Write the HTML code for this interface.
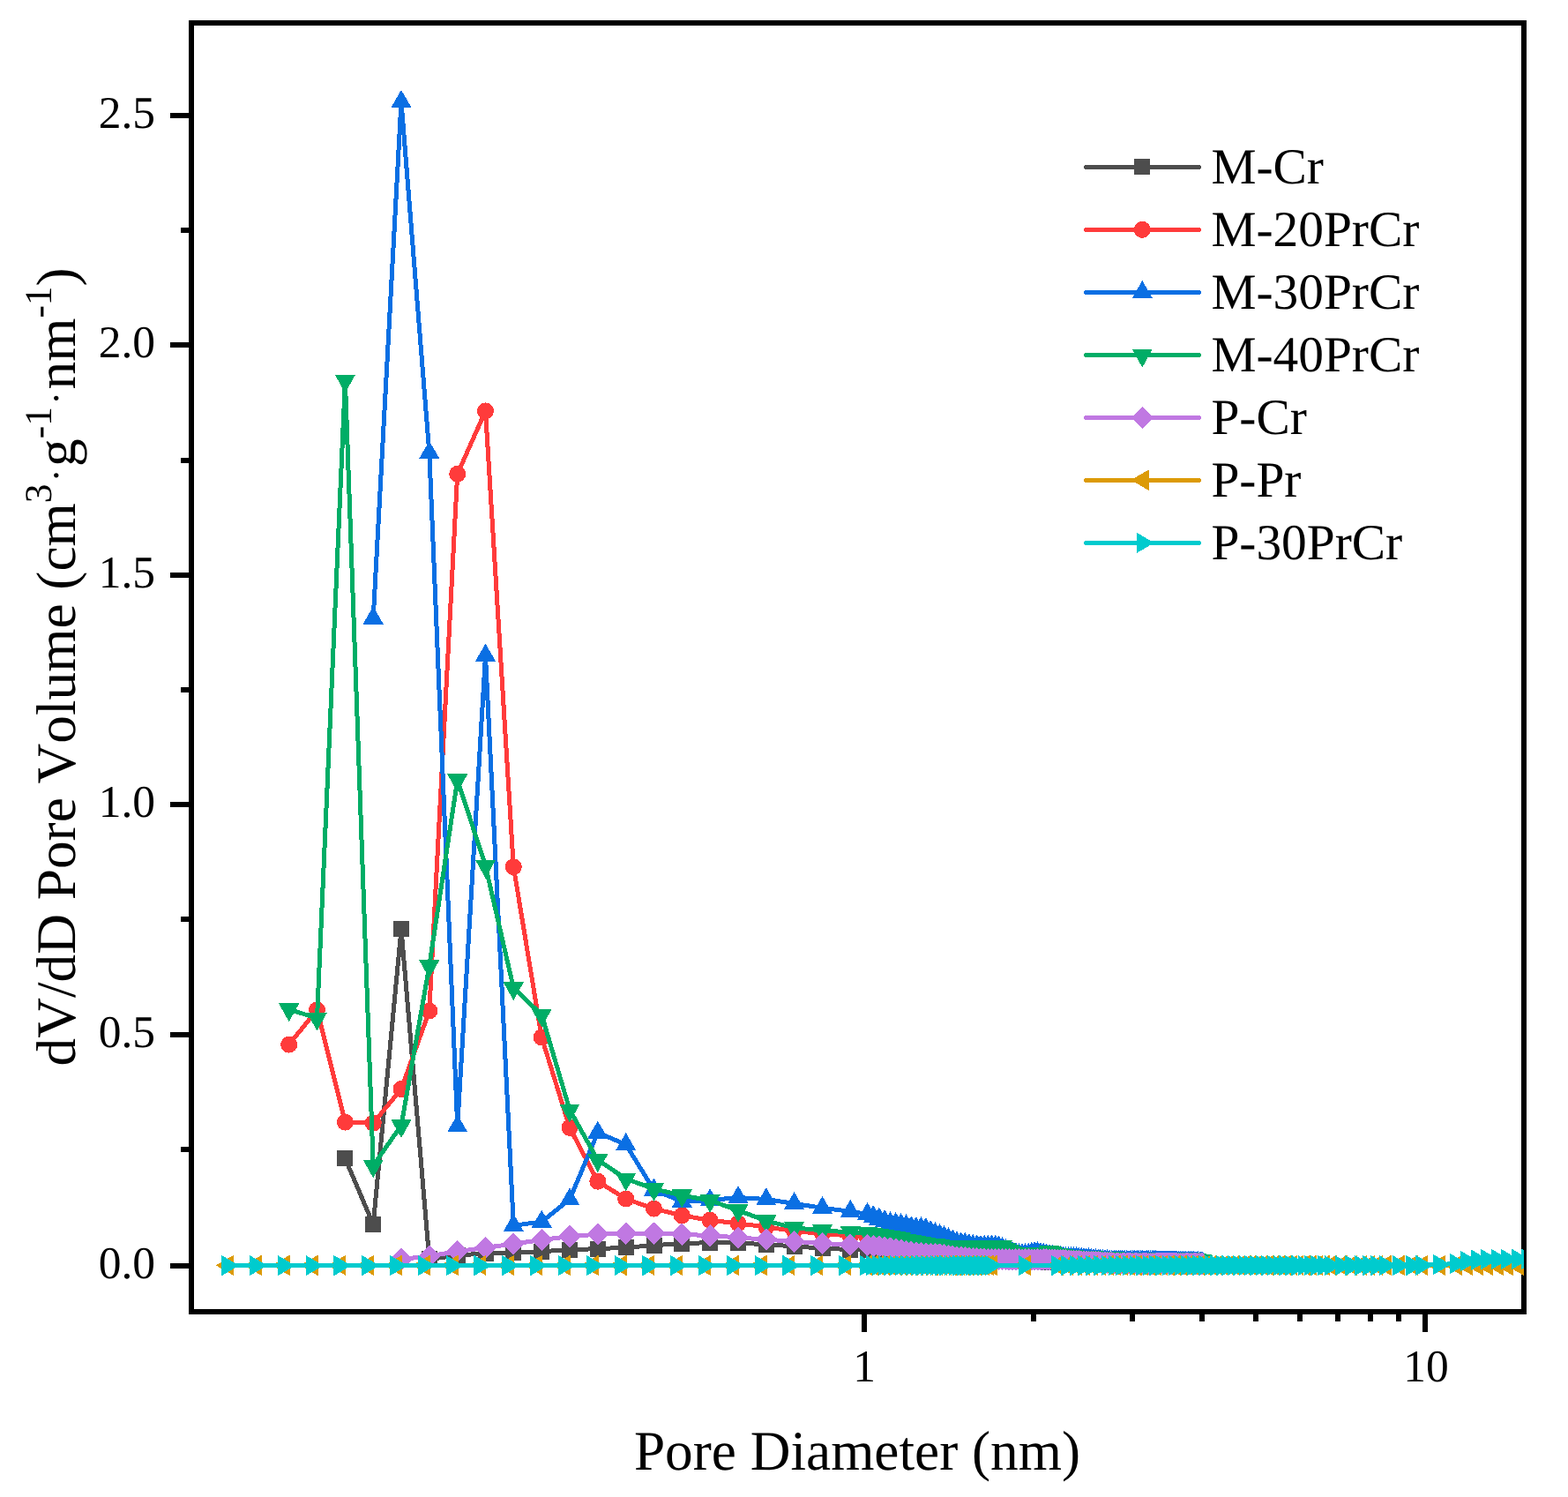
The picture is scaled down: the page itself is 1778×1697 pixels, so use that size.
<!DOCTYPE html>
<html lang="en"><head><meta charset="utf-8"><title>Pore size distribution</title>
<style>
html,body{margin:0;padding:0;background:#fff;}
body{width:1778px;height:1697px;overflow:hidden;}
svg{display:block;}
text{font-family:"Liberation Serif", serif;fill:#000;font-kerning:none;font-feature-settings:"kern" 0,"liga" 0;text-rendering:geometricPrecision;}
</style></head><body>
<svg width="1778" height="1697" viewBox="0 0 1778 1697">
<rect width="1778" height="1697" fill="#fff"/>
<g fill="#000" shape-rendering="crispEdges">
<path d="M214 23H1731V1490H214z M220 29V1484H1725V29z" fill-rule="evenodd"/>
<rect x="193" y="128" width="22" height="6"/>
<rect x="193" y="388" width="22" height="6"/>
<rect x="193" y="649" width="22" height="6"/>
<rect x="193" y="909" width="22" height="6"/>
<rect x="193" y="1170" width="22" height="6"/>
<rect x="193" y="1432" width="22" height="6"/>
<rect x="205" y="258" width="10" height="6"/>
<rect x="205" y="519" width="10" height="6"/>
<rect x="205" y="779" width="10" height="6"/>
<rect x="205" y="1039" width="10" height="6"/>
<rect x="205" y="1300" width="10" height="6"/>
<rect x="977" y="1489" width="6" height="21"/>
<rect x="1613" y="1489" width="6" height="21"/>
<rect x="1169" y="1489" width="6" height="9"/>
<rect x="1281" y="1489" width="6" height="9"/>
<rect x="1360" y="1489" width="6" height="9"/>
<rect x="1421" y="1489" width="6" height="9"/>
<rect x="1471" y="1489" width="6" height="9"/>
<rect x="1514" y="1489" width="6" height="9"/>
<rect x="1551" y="1489" width="6" height="9"/>
<rect x="1583" y="1489" width="6" height="9"/>
</g>
<g font-size="51.5" text-anchor="end">
<text x="176" y="145">2.5</text>
<text x="176" y="405">2.0</text>
<text x="176" y="666">1.5</text>
<text x="176" y="926">1.0</text>
<text x="176" y="1187">0.5</text>
<text x="176" y="1449">0.0</text>
</g>
<g font-size="51.5" text-anchor="middle">
<text x="980" y="1565.7">1</text>
<text x="1617" y="1565.7">10</text>
</g>
<text x="972" y="1666" font-size="63.3" text-anchor="middle">Pore Diameter (nm)</text>
<text transform="translate(84.8,755.9) rotate(-90)" font-size="63.3" text-anchor="middle">dV/dD Pore Volume (cm<tspan font-size="43.3" dy="-27">3</tspan><tspan font-size="46" dx="2.2" dy="21.4">·</tspan><tspan dy="5.6" dx="2.2">g</tspan><tspan font-size="43.3" dy="-27">-1</tspan><tspan font-size="46" dx="2.2" dy="21.4">·</tspan><tspan dy="5.6" dx="2.2">nm</tspan><tspan font-size="43.3" dy="-27">-1</tspan><tspan dy="27">)</tspan></text>
<defs><clipPath id="plot"><rect x="217" y="26" width="1511" height="1461"/></clipPath></defs>
<g clip-path="url(#plot)" shape-rendering="crispEdges">
<path d="M391.4 1313.3L423.2 1388.0L455.0 1053.3L486.8 1427.4L518.7 1423.2L550.5 1420.7L582.3 1420.0L614.2 1418.6L646.0 1416.8L677.8 1415.6L709.7 1414.3L741.5 1411.6L773.3 1409.8L805.1 1408.5L837.0 1409.0L868.8 1410.8L900.6 1412.8L932.5 1415.2L964.3 1416.5L983.5 1417.0L990.2 1417.0L996.8 1417.0L1003.2 1417.0L1009.5 1417.0L1015.6 1417.6L1021.6 1418.2L1027.5 1418.8L1033.3 1419.3L1038.9 1419.9L1044.4 1420.4L1049.8 1421.0L1055.2 1421.5L1060.4 1422.0L1065.5 1422.5L1070.5 1423.0L1075.4 1423.5L1080.3 1424.0L1085.0 1424.5L1089.7 1425.0L1094.3 1425.4L1098.9 1425.9L1103.3 1426.3L1107.7 1426.8L1112.0 1427.1L1116.3 1427.3L1120.4 1427.5L1124.6 1427.6L1128.6 1427.8L1132.6 1428.0L1136.6 1428.2L1140.5 1428.4L1144.3 1428.5L1148.1 1428.7L1151.8 1428.9L1155.5 1429.0L1159.1 1429.2L1162.7 1429.3L1166.3 1429.5L1169.8 1429.7L1173.2 1429.8L1176.6 1430.0L1180.0 1430.1L1183.3 1430.3L1186.6 1430.4L1189.8 1430.5L1193.1 1430.7L1196.2 1430.8L1199.4 1431.0L1202.5 1431.0L1205.5 1431.1L1208.6 1431.2L1211.6 1431.2L1214.5 1431.3L1217.5 1431.3L1220.4 1431.4L1223.3 1431.4L1226.1 1431.5L1228.9 1431.5L1231.7 1431.6L1234.5 1431.6L1237.2 1431.7L1239.9 1431.7L1242.6 1431.8L1245.3 1431.8L1247.9 1431.9L1250.5 1431.9L1253.1 1432.0L1255.6 1432.0L1258.2 1432.1L1260.7 1432.1L1263.2 1432.1L1265.6 1432.2L1268.1 1432.2L1270.5 1432.3L1272.9 1432.3L1275.3 1432.4L1277.7 1432.4L1280.0 1432.5L1282.3 1432.5L1284.6 1432.5L1286.9 1432.6L1289.2 1432.6L1291.4 1432.7L1293.6 1432.7L1295.8 1432.7L1298.0 1432.8L1300.2 1432.8L1302.4 1432.9L1304.5 1432.9L1306.6 1432.9L1308.7 1433.0L1310.8 1433.0L1312.9 1433.1L1315.0 1433.1L1317.0 1433.1L1319.1 1433.2L1321.1 1433.2L1323.1 1433.2L1325.1 1433.3L1327.0 1433.3L1329.0 1433.3L1330.9 1433.4L1332.9 1433.4L1334.8 1433.5L1336.7 1433.5L1338.6 1433.5L1340.5 1433.6L1342.3 1433.6L1344.2 1433.6L1346.0 1433.7L1347.8 1433.7L1349.7 1433.7L1351.5 1433.8L1353.3 1433.8L1355.0 1433.8L1356.8 1433.9L1358.6 1433.9L1360.3 1433.9L1362.1 1433.9L1363.8 1434.0" fill="none" stroke="#4d4d4d" stroke-width="5" stroke-linejoin="round" stroke-linecap="round"/>
<path d="M382.4 1304.3h18v18h-18zM414.2 1379.0h18v18h-18zM446.0 1044.3h18v18h-18zM477.8 1418.4h18v18h-18zM509.7 1414.2h18v18h-18zM541.5 1411.7h18v18h-18zM573.3 1411.0h18v18h-18zM605.2 1409.6h18v18h-18zM637.0 1407.8h18v18h-18zM668.8 1406.6h18v18h-18zM700.7 1405.3h18v18h-18zM732.5 1402.6h18v18h-18zM764.3 1400.8h18v18h-18zM796.1 1399.5h18v18h-18zM828.0 1400.0h18v18h-18zM859.8 1401.8h18v18h-18zM891.6 1403.8h18v18h-18zM923.5 1406.2h18v18h-18zM955.3 1407.5h18v18h-18zM974.5 1408.0h18v18h-18zM981.2 1408.0h18v18h-18zM987.8 1408.0h18v18h-18zM994.2 1408.0h18v18h-18zM1000.5 1408.0h18v18h-18zM1006.6 1408.6h18v18h-18zM1012.6 1409.2h18v18h-18zM1018.5 1409.8h18v18h-18zM1024.3 1410.3h18v18h-18zM1029.9 1410.9h18v18h-18zM1035.4 1411.4h18v18h-18zM1040.8 1412.0h18v18h-18zM1046.2 1412.5h18v18h-18zM1051.4 1413.0h18v18h-18zM1056.5 1413.5h18v18h-18zM1061.5 1414.0h18v18h-18zM1066.4 1414.5h18v18h-18zM1071.3 1415.0h18v18h-18zM1076.0 1415.5h18v18h-18zM1080.7 1416.0h18v18h-18zM1085.3 1416.4h18v18h-18zM1089.9 1416.9h18v18h-18zM1094.3 1417.3h18v18h-18zM1098.7 1417.8h18v18h-18zM1103.0 1418.1h18v18h-18zM1107.3 1418.3h18v18h-18zM1111.4 1418.5h18v18h-18zM1115.6 1418.6h18v18h-18zM1119.6 1418.8h18v18h-18zM1123.6 1419.0h18v18h-18zM1127.6 1419.2h18v18h-18zM1131.5 1419.4h18v18h-18zM1135.3 1419.5h18v18h-18zM1139.1 1419.7h18v18h-18zM1142.8 1419.9h18v18h-18zM1146.5 1420.0h18v18h-18zM1150.1 1420.2h18v18h-18zM1153.7 1420.3h18v18h-18zM1157.3 1420.5h18v18h-18zM1160.8 1420.7h18v18h-18zM1164.2 1420.8h18v18h-18zM1167.6 1421.0h18v18h-18zM1171.0 1421.1h18v18h-18zM1174.3 1421.3h18v18h-18zM1177.6 1421.4h18v18h-18zM1180.8 1421.5h18v18h-18zM1184.1 1421.7h18v18h-18zM1187.2 1421.8h18v18h-18zM1190.4 1422.0h18v18h-18zM1193.5 1422.0h18v18h-18zM1196.5 1422.1h18v18h-18zM1199.6 1422.2h18v18h-18zM1202.6 1422.2h18v18h-18zM1205.5 1422.3h18v18h-18zM1208.5 1422.3h18v18h-18zM1211.4 1422.4h18v18h-18zM1214.3 1422.4h18v18h-18zM1217.1 1422.5h18v18h-18zM1219.9 1422.5h18v18h-18zM1222.7 1422.6h18v18h-18zM1225.5 1422.6h18v18h-18zM1228.2 1422.7h18v18h-18zM1230.9 1422.7h18v18h-18zM1233.6 1422.8h18v18h-18zM1236.3 1422.8h18v18h-18zM1238.9 1422.9h18v18h-18zM1241.5 1422.9h18v18h-18zM1244.1 1423.0h18v18h-18zM1246.6 1423.0h18v18h-18zM1249.2 1423.1h18v18h-18zM1251.7 1423.1h18v18h-18zM1254.2 1423.1h18v18h-18zM1256.6 1423.2h18v18h-18zM1259.1 1423.2h18v18h-18zM1261.5 1423.3h18v18h-18zM1263.9 1423.3h18v18h-18zM1266.3 1423.4h18v18h-18zM1268.7 1423.4h18v18h-18zM1271.0 1423.5h18v18h-18zM1273.3 1423.5h18v18h-18zM1275.6 1423.5h18v18h-18zM1277.9 1423.6h18v18h-18zM1280.2 1423.6h18v18h-18zM1282.4 1423.7h18v18h-18zM1284.6 1423.7h18v18h-18zM1286.8 1423.7h18v18h-18zM1289.0 1423.8h18v18h-18zM1291.2 1423.8h18v18h-18zM1293.4 1423.9h18v18h-18zM1295.5 1423.9h18v18h-18zM1297.6 1423.9h18v18h-18zM1299.7 1424.0h18v18h-18zM1301.8 1424.0h18v18h-18zM1303.9 1424.1h18v18h-18zM1306.0 1424.1h18v18h-18zM1308.0 1424.1h18v18h-18zM1310.1 1424.2h18v18h-18zM1312.1 1424.2h18v18h-18zM1314.1 1424.2h18v18h-18zM1316.1 1424.3h18v18h-18zM1318.0 1424.3h18v18h-18zM1320.0 1424.3h18v18h-18zM1321.9 1424.4h18v18h-18zM1323.9 1424.4h18v18h-18zM1325.8 1424.5h18v18h-18zM1327.7 1424.5h18v18h-18zM1329.6 1424.5h18v18h-18zM1331.5 1424.6h18v18h-18zM1333.3 1424.6h18v18h-18zM1335.2 1424.6h18v18h-18zM1337.0 1424.7h18v18h-18zM1338.8 1424.7h18v18h-18zM1340.7 1424.7h18v18h-18zM1342.5 1424.8h18v18h-18zM1344.3 1424.8h18v18h-18zM1346.0 1424.8h18v18h-18zM1347.8 1424.9h18v18h-18zM1349.6 1424.9h18v18h-18zM1351.3 1424.9h18v18h-18zM1353.1 1424.9h18v18h-18zM1354.8 1425.0h18v18h-18z" fill="#4d4d4d"/>
<path d="M327.7 1184.1L359.5 1144.8L391.4 1272.1L423.2 1273.2L455.0 1234.5L486.8 1146.0L518.7 537.3L550.5 465.9L582.3 982.6L614.2 1175.9L646.0 1278.4L677.8 1339.2L709.7 1359.0L741.5 1370.2L773.3 1377.9L805.1 1383.3L837.0 1386.8L868.8 1391.0L900.6 1395.5L932.5 1398.5L964.3 1401.0L983.5 1403.0L990.2 1403.8L996.8 1404.6L1003.2 1405.4L1009.5 1406.2L1015.6 1407.0L1021.6 1407.7L1027.5 1408.6L1033.3 1409.5L1038.9 1410.5L1044.4 1411.4L1049.8 1412.3L1055.2 1413.2L1060.4 1414.0L1065.5 1414.7L1070.5 1415.3L1075.4 1415.9L1080.3 1416.4L1085.0 1417.0L1089.7 1417.6L1094.3 1418.1L1098.9 1418.7L1103.3 1419.2L1107.7 1419.7L1112.0 1420.1L1116.3 1420.4L1120.4 1420.7L1124.6 1421.0L1128.6 1421.2L1132.6 1421.5L1136.6 1421.8L1140.5 1422.0L1144.3 1422.3L1148.1 1422.5L1151.8 1422.8L1155.5 1423.0L1159.1 1423.3L1162.7 1423.5L1166.3 1423.8L1169.8 1424.0L1173.2 1424.2L1176.6 1424.4L1180.0 1424.7L1183.3 1424.9L1186.6 1425.1L1189.8 1425.3L1193.1 1425.5L1196.2 1425.7L1199.4 1426.0L1202.5 1426.1L1205.5 1426.2L1208.6 1426.4L1211.6 1426.5L1214.5 1426.6L1217.5 1426.7L1220.4 1426.9L1223.3 1427.0L1226.1 1427.1L1228.9 1427.2L1231.7 1427.3L1234.5 1427.5L1237.2 1427.6L1239.9 1427.7L1242.6 1427.8L1245.3 1427.9L1247.9 1428.0L1250.5 1428.1L1253.1 1428.3L1255.6 1428.4L1258.2 1428.5L1260.7 1428.6L1263.2 1428.7L1265.6 1428.8L1268.1 1428.9L1270.5 1429.0L1272.9 1429.1L1275.3 1429.2L1277.7 1429.3L1280.0 1429.4L1282.3 1429.5L1284.6 1429.6L1286.9 1429.7L1289.2 1429.8L1291.4 1429.9L1293.6 1430.0L1295.8 1430.1L1298.0 1430.2L1300.2 1430.3L1302.4 1430.3L1304.5 1430.4L1306.6 1430.5L1308.7 1430.6L1310.8 1430.7L1312.9 1430.8L1315.0 1430.9L1317.0 1431.0L1319.1 1431.1L1321.1 1431.1L1323.1 1431.2L1325.1 1431.3L1327.0 1431.4L1329.0 1431.5L1330.9 1431.6L1332.9 1431.6L1334.8 1431.7L1336.7 1431.8L1338.6 1431.9L1340.5 1432.0L1342.3 1432.0L1344.2 1432.1L1346.0 1432.2L1347.8 1432.3L1349.7 1432.3L1351.5 1432.4L1353.3 1432.5L1355.0 1432.6L1356.8 1432.7L1358.6 1432.7L1360.3 1432.8L1362.1 1432.9L1363.8 1432.9" fill="none" stroke="#ff3b3b" stroke-width="5" stroke-linejoin="round" stroke-linecap="round"/>
<path d="M318.2 1184.1a9.5 9.5 0 1 0 19.0 0a9.5 9.5 0 1 0 -19.0 0zM350.0 1144.8a9.5 9.5 0 1 0 19.0 0a9.5 9.5 0 1 0 -19.0 0zM381.9 1272.1a9.5 9.5 0 1 0 19.0 0a9.5 9.5 0 1 0 -19.0 0zM413.7 1273.2a9.5 9.5 0 1 0 19.0 0a9.5 9.5 0 1 0 -19.0 0zM445.5 1234.5a9.5 9.5 0 1 0 19.0 0a9.5 9.5 0 1 0 -19.0 0zM477.3 1146.0a9.5 9.5 0 1 0 19.0 0a9.5 9.5 0 1 0 -19.0 0zM509.2 537.3a9.5 9.5 0 1 0 19.0 0a9.5 9.5 0 1 0 -19.0 0zM541.0 465.9a9.5 9.5 0 1 0 19.0 0a9.5 9.5 0 1 0 -19.0 0zM572.8 982.6a9.5 9.5 0 1 0 19.0 0a9.5 9.5 0 1 0 -19.0 0zM604.7 1175.9a9.5 9.5 0 1 0 19.0 0a9.5 9.5 0 1 0 -19.0 0zM636.5 1278.4a9.5 9.5 0 1 0 19.0 0a9.5 9.5 0 1 0 -19.0 0zM668.3 1339.2a9.5 9.5 0 1 0 19.0 0a9.5 9.5 0 1 0 -19.0 0zM700.2 1359.0a9.5 9.5 0 1 0 19.0 0a9.5 9.5 0 1 0 -19.0 0zM732.0 1370.2a9.5 9.5 0 1 0 19.0 0a9.5 9.5 0 1 0 -19.0 0zM763.8 1377.9a9.5 9.5 0 1 0 19.0 0a9.5 9.5 0 1 0 -19.0 0zM795.6 1383.3a9.5 9.5 0 1 0 19.0 0a9.5 9.5 0 1 0 -19.0 0zM827.5 1386.8a9.5 9.5 0 1 0 19.0 0a9.5 9.5 0 1 0 -19.0 0zM859.3 1391.0a9.5 9.5 0 1 0 19.0 0a9.5 9.5 0 1 0 -19.0 0zM891.1 1395.5a9.5 9.5 0 1 0 19.0 0a9.5 9.5 0 1 0 -19.0 0zM923.0 1398.5a9.5 9.5 0 1 0 19.0 0a9.5 9.5 0 1 0 -19.0 0zM954.8 1401.0a9.5 9.5 0 1 0 19.0 0a9.5 9.5 0 1 0 -19.0 0zM974.0 1403.0a9.5 9.5 0 1 0 19.0 0a9.5 9.5 0 1 0 -19.0 0zM980.7 1403.8a9.5 9.5 0 1 0 19.0 0a9.5 9.5 0 1 0 -19.0 0zM987.3 1404.6a9.5 9.5 0 1 0 19.0 0a9.5 9.5 0 1 0 -19.0 0zM993.7 1405.4a9.5 9.5 0 1 0 19.0 0a9.5 9.5 0 1 0 -19.0 0zM1000.0 1406.2a9.5 9.5 0 1 0 19.0 0a9.5 9.5 0 1 0 -19.0 0zM1006.1 1407.0a9.5 9.5 0 1 0 19.0 0a9.5 9.5 0 1 0 -19.0 0zM1012.1 1407.7a9.5 9.5 0 1 0 19.0 0a9.5 9.5 0 1 0 -19.0 0zM1018.0 1408.6a9.5 9.5 0 1 0 19.0 0a9.5 9.5 0 1 0 -19.0 0zM1023.8 1409.5a9.5 9.5 0 1 0 19.0 0a9.5 9.5 0 1 0 -19.0 0zM1029.4 1410.5a9.5 9.5 0 1 0 19.0 0a9.5 9.5 0 1 0 -19.0 0zM1034.9 1411.4a9.5 9.5 0 1 0 19.0 0a9.5 9.5 0 1 0 -19.0 0zM1040.3 1412.3a9.5 9.5 0 1 0 19.0 0a9.5 9.5 0 1 0 -19.0 0zM1045.7 1413.2a9.5 9.5 0 1 0 19.0 0a9.5 9.5 0 1 0 -19.0 0zM1050.9 1414.0a9.5 9.5 0 1 0 19.0 0a9.5 9.5 0 1 0 -19.0 0zM1056.0 1414.7a9.5 9.5 0 1 0 19.0 0a9.5 9.5 0 1 0 -19.0 0zM1061.0 1415.3a9.5 9.5 0 1 0 19.0 0a9.5 9.5 0 1 0 -19.0 0zM1065.9 1415.9a9.5 9.5 0 1 0 19.0 0a9.5 9.5 0 1 0 -19.0 0zM1070.8 1416.4a9.5 9.5 0 1 0 19.0 0a9.5 9.5 0 1 0 -19.0 0zM1075.5 1417.0a9.5 9.5 0 1 0 19.0 0a9.5 9.5 0 1 0 -19.0 0zM1080.2 1417.6a9.5 9.5 0 1 0 19.0 0a9.5 9.5 0 1 0 -19.0 0zM1084.8 1418.1a9.5 9.5 0 1 0 19.0 0a9.5 9.5 0 1 0 -19.0 0zM1089.4 1418.7a9.5 9.5 0 1 0 19.0 0a9.5 9.5 0 1 0 -19.0 0zM1093.8 1419.2a9.5 9.5 0 1 0 19.0 0a9.5 9.5 0 1 0 -19.0 0zM1098.2 1419.7a9.5 9.5 0 1 0 19.0 0a9.5 9.5 0 1 0 -19.0 0zM1102.5 1420.1a9.5 9.5 0 1 0 19.0 0a9.5 9.5 0 1 0 -19.0 0zM1106.8 1420.4a9.5 9.5 0 1 0 19.0 0a9.5 9.5 0 1 0 -19.0 0zM1110.9 1420.7a9.5 9.5 0 1 0 19.0 0a9.5 9.5 0 1 0 -19.0 0zM1115.1 1421.0a9.5 9.5 0 1 0 19.0 0a9.5 9.5 0 1 0 -19.0 0zM1119.1 1421.2a9.5 9.5 0 1 0 19.0 0a9.5 9.5 0 1 0 -19.0 0zM1123.1 1421.5a9.5 9.5 0 1 0 19.0 0a9.5 9.5 0 1 0 -19.0 0zM1127.1 1421.8a9.5 9.5 0 1 0 19.0 0a9.5 9.5 0 1 0 -19.0 0zM1131.0 1422.0a9.5 9.5 0 1 0 19.0 0a9.5 9.5 0 1 0 -19.0 0zM1134.8 1422.3a9.5 9.5 0 1 0 19.0 0a9.5 9.5 0 1 0 -19.0 0zM1138.6 1422.5a9.5 9.5 0 1 0 19.0 0a9.5 9.5 0 1 0 -19.0 0zM1142.3 1422.8a9.5 9.5 0 1 0 19.0 0a9.5 9.5 0 1 0 -19.0 0zM1146.0 1423.0a9.5 9.5 0 1 0 19.0 0a9.5 9.5 0 1 0 -19.0 0zM1149.6 1423.3a9.5 9.5 0 1 0 19.0 0a9.5 9.5 0 1 0 -19.0 0zM1153.2 1423.5a9.5 9.5 0 1 0 19.0 0a9.5 9.5 0 1 0 -19.0 0zM1156.8 1423.8a9.5 9.5 0 1 0 19.0 0a9.5 9.5 0 1 0 -19.0 0zM1160.3 1424.0a9.5 9.5 0 1 0 19.0 0a9.5 9.5 0 1 0 -19.0 0zM1163.7 1424.2a9.5 9.5 0 1 0 19.0 0a9.5 9.5 0 1 0 -19.0 0zM1167.1 1424.4a9.5 9.5 0 1 0 19.0 0a9.5 9.5 0 1 0 -19.0 0zM1170.5 1424.7a9.5 9.5 0 1 0 19.0 0a9.5 9.5 0 1 0 -19.0 0zM1173.8 1424.9a9.5 9.5 0 1 0 19.0 0a9.5 9.5 0 1 0 -19.0 0zM1177.1 1425.1a9.5 9.5 0 1 0 19.0 0a9.5 9.5 0 1 0 -19.0 0zM1180.3 1425.3a9.5 9.5 0 1 0 19.0 0a9.5 9.5 0 1 0 -19.0 0zM1183.6 1425.5a9.5 9.5 0 1 0 19.0 0a9.5 9.5 0 1 0 -19.0 0zM1186.7 1425.7a9.5 9.5 0 1 0 19.0 0a9.5 9.5 0 1 0 -19.0 0zM1189.9 1426.0a9.5 9.5 0 1 0 19.0 0a9.5 9.5 0 1 0 -19.0 0zM1193.0 1426.1a9.5 9.5 0 1 0 19.0 0a9.5 9.5 0 1 0 -19.0 0zM1196.0 1426.2a9.5 9.5 0 1 0 19.0 0a9.5 9.5 0 1 0 -19.0 0zM1199.1 1426.4a9.5 9.5 0 1 0 19.0 0a9.5 9.5 0 1 0 -19.0 0zM1202.1 1426.5a9.5 9.5 0 1 0 19.0 0a9.5 9.5 0 1 0 -19.0 0zM1205.0 1426.6a9.5 9.5 0 1 0 19.0 0a9.5 9.5 0 1 0 -19.0 0zM1208.0 1426.7a9.5 9.5 0 1 0 19.0 0a9.5 9.5 0 1 0 -19.0 0zM1210.9 1426.9a9.5 9.5 0 1 0 19.0 0a9.5 9.5 0 1 0 -19.0 0zM1213.8 1427.0a9.5 9.5 0 1 0 19.0 0a9.5 9.5 0 1 0 -19.0 0zM1216.6 1427.1a9.5 9.5 0 1 0 19.0 0a9.5 9.5 0 1 0 -19.0 0zM1219.4 1427.2a9.5 9.5 0 1 0 19.0 0a9.5 9.5 0 1 0 -19.0 0zM1222.2 1427.3a9.5 9.5 0 1 0 19.0 0a9.5 9.5 0 1 0 -19.0 0zM1225.0 1427.5a9.5 9.5 0 1 0 19.0 0a9.5 9.5 0 1 0 -19.0 0zM1227.7 1427.6a9.5 9.5 0 1 0 19.0 0a9.5 9.5 0 1 0 -19.0 0zM1230.4 1427.7a9.5 9.5 0 1 0 19.0 0a9.5 9.5 0 1 0 -19.0 0zM1233.1 1427.8a9.5 9.5 0 1 0 19.0 0a9.5 9.5 0 1 0 -19.0 0zM1235.8 1427.9a9.5 9.5 0 1 0 19.0 0a9.5 9.5 0 1 0 -19.0 0zM1238.4 1428.0a9.5 9.5 0 1 0 19.0 0a9.5 9.5 0 1 0 -19.0 0zM1241.0 1428.1a9.5 9.5 0 1 0 19.0 0a9.5 9.5 0 1 0 -19.0 0zM1243.6 1428.3a9.5 9.5 0 1 0 19.0 0a9.5 9.5 0 1 0 -19.0 0zM1246.1 1428.4a9.5 9.5 0 1 0 19.0 0a9.5 9.5 0 1 0 -19.0 0zM1248.7 1428.5a9.5 9.5 0 1 0 19.0 0a9.5 9.5 0 1 0 -19.0 0zM1251.2 1428.6a9.5 9.5 0 1 0 19.0 0a9.5 9.5 0 1 0 -19.0 0zM1253.7 1428.7a9.5 9.5 0 1 0 19.0 0a9.5 9.5 0 1 0 -19.0 0zM1256.1 1428.8a9.5 9.5 0 1 0 19.0 0a9.5 9.5 0 1 0 -19.0 0zM1258.6 1428.9a9.5 9.5 0 1 0 19.0 0a9.5 9.5 0 1 0 -19.0 0zM1261.0 1429.0a9.5 9.5 0 1 0 19.0 0a9.5 9.5 0 1 0 -19.0 0zM1263.4 1429.1a9.5 9.5 0 1 0 19.0 0a9.5 9.5 0 1 0 -19.0 0zM1265.8 1429.2a9.5 9.5 0 1 0 19.0 0a9.5 9.5 0 1 0 -19.0 0zM1268.2 1429.3a9.5 9.5 0 1 0 19.0 0a9.5 9.5 0 1 0 -19.0 0zM1270.5 1429.4a9.5 9.5 0 1 0 19.0 0a9.5 9.5 0 1 0 -19.0 0zM1272.8 1429.5a9.5 9.5 0 1 0 19.0 0a9.5 9.5 0 1 0 -19.0 0zM1275.1 1429.6a9.5 9.5 0 1 0 19.0 0a9.5 9.5 0 1 0 -19.0 0zM1277.4 1429.7a9.5 9.5 0 1 0 19.0 0a9.5 9.5 0 1 0 -19.0 0zM1279.7 1429.8a9.5 9.5 0 1 0 19.0 0a9.5 9.5 0 1 0 -19.0 0zM1281.9 1429.9a9.5 9.5 0 1 0 19.0 0a9.5 9.5 0 1 0 -19.0 0zM1284.1 1430.0a9.5 9.5 0 1 0 19.0 0a9.5 9.5 0 1 0 -19.0 0zM1286.3 1430.1a9.5 9.5 0 1 0 19.0 0a9.5 9.5 0 1 0 -19.0 0zM1288.5 1430.2a9.5 9.5 0 1 0 19.0 0a9.5 9.5 0 1 0 -19.0 0zM1290.7 1430.3a9.5 9.5 0 1 0 19.0 0a9.5 9.5 0 1 0 -19.0 0zM1292.9 1430.3a9.5 9.5 0 1 0 19.0 0a9.5 9.5 0 1 0 -19.0 0zM1295.0 1430.4a9.5 9.5 0 1 0 19.0 0a9.5 9.5 0 1 0 -19.0 0zM1297.1 1430.5a9.5 9.5 0 1 0 19.0 0a9.5 9.5 0 1 0 -19.0 0zM1299.2 1430.6a9.5 9.5 0 1 0 19.0 0a9.5 9.5 0 1 0 -19.0 0zM1301.3 1430.7a9.5 9.5 0 1 0 19.0 0a9.5 9.5 0 1 0 -19.0 0zM1303.4 1430.8a9.5 9.5 0 1 0 19.0 0a9.5 9.5 0 1 0 -19.0 0zM1305.5 1430.9a9.5 9.5 0 1 0 19.0 0a9.5 9.5 0 1 0 -19.0 0zM1307.5 1431.0a9.5 9.5 0 1 0 19.0 0a9.5 9.5 0 1 0 -19.0 0zM1309.6 1431.1a9.5 9.5 0 1 0 19.0 0a9.5 9.5 0 1 0 -19.0 0zM1311.6 1431.1a9.5 9.5 0 1 0 19.0 0a9.5 9.5 0 1 0 -19.0 0zM1313.6 1431.2a9.5 9.5 0 1 0 19.0 0a9.5 9.5 0 1 0 -19.0 0zM1315.6 1431.3a9.5 9.5 0 1 0 19.0 0a9.5 9.5 0 1 0 -19.0 0zM1317.5 1431.4a9.5 9.5 0 1 0 19.0 0a9.5 9.5 0 1 0 -19.0 0zM1319.5 1431.5a9.5 9.5 0 1 0 19.0 0a9.5 9.5 0 1 0 -19.0 0zM1321.4 1431.6a9.5 9.5 0 1 0 19.0 0a9.5 9.5 0 1 0 -19.0 0zM1323.4 1431.6a9.5 9.5 0 1 0 19.0 0a9.5 9.5 0 1 0 -19.0 0zM1325.3 1431.7a9.5 9.5 0 1 0 19.0 0a9.5 9.5 0 1 0 -19.0 0zM1327.2 1431.8a9.5 9.5 0 1 0 19.0 0a9.5 9.5 0 1 0 -19.0 0zM1329.1 1431.9a9.5 9.5 0 1 0 19.0 0a9.5 9.5 0 1 0 -19.0 0zM1331.0 1432.0a9.5 9.5 0 1 0 19.0 0a9.5 9.5 0 1 0 -19.0 0zM1332.8 1432.0a9.5 9.5 0 1 0 19.0 0a9.5 9.5 0 1 0 -19.0 0zM1334.7 1432.1a9.5 9.5 0 1 0 19.0 0a9.5 9.5 0 1 0 -19.0 0zM1336.5 1432.2a9.5 9.5 0 1 0 19.0 0a9.5 9.5 0 1 0 -19.0 0zM1338.3 1432.3a9.5 9.5 0 1 0 19.0 0a9.5 9.5 0 1 0 -19.0 0zM1340.2 1432.3a9.5 9.5 0 1 0 19.0 0a9.5 9.5 0 1 0 -19.0 0zM1342.0 1432.4a9.5 9.5 0 1 0 19.0 0a9.5 9.5 0 1 0 -19.0 0zM1343.8 1432.5a9.5 9.5 0 1 0 19.0 0a9.5 9.5 0 1 0 -19.0 0zM1345.5 1432.6a9.5 9.5 0 1 0 19.0 0a9.5 9.5 0 1 0 -19.0 0zM1347.3 1432.7a9.5 9.5 0 1 0 19.0 0a9.5 9.5 0 1 0 -19.0 0zM1349.1 1432.7a9.5 9.5 0 1 0 19.0 0a9.5 9.5 0 1 0 -19.0 0zM1350.8 1432.8a9.5 9.5 0 1 0 19.0 0a9.5 9.5 0 1 0 -19.0 0zM1352.6 1432.9a9.5 9.5 0 1 0 19.0 0a9.5 9.5 0 1 0 -19.0 0zM1354.3 1432.9a9.5 9.5 0 1 0 19.0 0a9.5 9.5 0 1 0 -19.0 0z" fill="#ff3b3b"/>
<path d="M423.2 700.8L455.0 115.3L486.8 513.2L518.7 1276.7L550.5 743.0L582.3 1389.3L614.2 1385.0L646.0 1359.7L677.8 1284.0L709.7 1297.4L741.5 1349.0L773.3 1362.0L805.1 1360.6L837.0 1357.5L868.8 1359.5L900.6 1364.4L932.5 1369.3L964.3 1373.3L983.5 1376.3L990.2 1379.4L996.8 1381.9L1003.2 1384.5L1009.5 1386.6L1015.6 1387.5L1021.6 1388.4L1027.5 1389.6L1033.3 1391.6L1038.9 1392.5L1044.4 1392.5L1049.8 1393.4L1055.2 1396.5L1060.4 1398.4L1065.5 1400.4L1070.5 1402.3L1075.4 1404.7L1080.3 1406.6L1085.0 1408.7L1089.7 1409.6L1094.3 1410.5L1098.9 1411.3L1103.3 1412.3L1107.7 1412.7L1112.0 1413.2L1116.3 1413.5L1120.4 1413.2L1124.6 1412.8L1128.6 1413.1L1132.6 1413.9L1136.6 1415.5L1140.5 1417.2L1144.3 1418.9L1148.1 1420.5L1151.8 1421.6L1155.5 1422.5L1159.1 1422.5L1162.7 1422.5L1166.3 1422.0L1169.8 1421.2L1173.2 1420.4L1176.6 1420.4L1180.0 1421.4L1183.3 1422.2L1186.6 1422.8L1189.8 1423.4L1193.1 1423.9L1196.2 1424.4L1199.4 1424.9L1202.5 1425.4L1205.5 1425.9L1208.6 1426.4L1211.6 1426.5L1214.5 1426.5L1217.5 1426.5L1220.4 1426.7L1223.3 1426.9L1226.1 1427.1L1228.9 1427.4L1231.7 1427.6L1234.5 1427.8L1237.2 1428.0L1239.9 1428.3L1242.6 1428.6L1245.3 1428.8L1247.9 1429.1L1250.5 1429.4L1253.1 1429.6L1255.6 1429.7L1258.2 1429.8L1260.7 1429.9L1263.2 1429.9L1265.6 1430.0L1268.1 1430.1L1270.5 1430.1L1272.9 1430.1L1275.3 1430.1L1277.7 1430.1L1280.0 1430.1L1282.3 1430.1L1284.6 1430.2L1286.9 1430.2L1289.2 1430.2L1291.4 1430.2L1293.6 1430.2L1295.8 1430.2L1298.0 1430.2L1300.2 1430.2L1302.4 1430.2L1304.5 1430.2L1306.6 1430.2L1308.7 1430.3L1310.8 1430.3L1312.9 1430.3L1315.0 1430.3L1317.0 1430.3L1319.1 1430.3L1321.1 1430.3L1323.1 1430.4L1325.1 1430.5L1327.0 1430.5L1329.0 1430.6L1330.9 1430.6L1332.9 1430.7L1334.8 1430.8L1336.7 1430.8L1338.6 1430.9L1340.5 1430.9L1342.3 1431.0L1344.2 1431.1L1346.0 1431.1L1347.8 1431.2L1349.7 1431.2L1351.5 1431.3L1353.3 1431.3L1355.0 1431.4L1356.8 1431.4L1358.6 1431.5L1360.3 1431.6L1362.1 1431.6L1363.8 1431.7" fill="none" stroke="#0a6fe3" stroke-width="5" stroke-linejoin="round" stroke-linecap="round"/>
<path d="M423.2 687.4L434.8 707.5L411.6 707.5zM455.0 101.9L466.6 122.0L443.4 122.0zM486.8 499.8L498.4 519.9L475.2 519.9zM518.7 1263.3L530.3 1283.4L507.1 1283.4zM550.5 729.6L562.1 749.7L538.9 749.7zM582.3 1375.9L593.9 1396.0L570.7 1396.0zM614.2 1371.6L625.8 1391.7L602.6 1391.7zM646.0 1346.3L657.6 1366.4L634.4 1366.4zM677.8 1270.6L689.4 1290.7L666.2 1290.7zM709.7 1284.0L721.3 1304.1L698.1 1304.1zM741.5 1335.6L753.1 1355.7L729.9 1355.7zM773.3 1348.6L784.9 1368.7L761.7 1368.7zM805.1 1347.2L816.8 1367.3L793.5 1367.3zM837.0 1344.1L848.6 1364.2L825.4 1364.2zM868.8 1346.1L880.4 1366.2L857.2 1366.2zM900.6 1351.0L912.2 1371.1L889.0 1371.1zM932.5 1355.9L944.1 1376.0L920.9 1376.0zM964.3 1359.9L975.9 1380.0L952.7 1380.0zM983.5 1362.9L995.1 1383.0L971.9 1383.0zM990.2 1366.0L1001.8 1386.1L978.6 1386.1zM996.8 1368.5L1008.4 1388.6L985.2 1388.6zM1003.2 1371.1L1014.8 1391.2L991.6 1391.2zM1009.5 1373.2L1021.1 1393.3L997.9 1393.3zM1015.6 1374.1L1027.2 1394.2L1004.0 1394.2zM1021.6 1375.0L1033.2 1395.1L1010.0 1395.1zM1027.5 1376.2L1039.1 1396.3L1015.9 1396.3zM1033.3 1378.2L1044.9 1398.3L1021.7 1398.3zM1038.9 1379.1L1050.5 1399.2L1027.3 1399.2zM1044.4 1379.1L1056.0 1399.2L1032.8 1399.2zM1049.8 1380.0L1061.4 1400.1L1038.2 1400.1zM1055.2 1383.1L1066.8 1403.2L1043.6 1403.2zM1060.4 1385.0L1072.0 1405.1L1048.8 1405.1zM1065.5 1387.0L1077.1 1407.1L1053.9 1407.1zM1070.5 1388.9L1082.1 1409.0L1058.9 1409.0zM1075.4 1391.3L1087.0 1411.4L1063.8 1411.4zM1080.3 1393.2L1091.9 1413.3L1068.7 1413.3zM1085.0 1395.3L1096.6 1415.4L1073.4 1415.4zM1089.7 1396.2L1101.3 1416.3L1078.1 1416.3zM1094.3 1397.1L1105.9 1417.2L1082.7 1417.2zM1098.9 1397.9L1110.5 1418.0L1087.3 1418.0zM1103.3 1398.9L1114.9 1419.0L1091.7 1419.0zM1107.7 1399.3L1119.3 1419.4L1096.1 1419.4zM1112.0 1399.8L1123.6 1419.9L1100.4 1419.9zM1116.3 1400.1L1127.9 1420.2L1104.7 1420.2zM1120.4 1399.8L1132.0 1419.9L1108.8 1419.9zM1124.6 1399.4L1136.2 1419.5L1113.0 1419.5zM1128.6 1399.7L1140.2 1419.8L1117.0 1419.8zM1132.6 1400.5L1144.2 1420.6L1121.0 1420.6zM1136.6 1402.1L1148.2 1422.2L1125.0 1422.2zM1140.5 1403.8L1152.1 1423.9L1128.9 1423.9zM1144.3 1405.5L1155.9 1425.6L1132.7 1425.6zM1148.1 1407.1L1159.7 1427.2L1136.5 1427.2zM1151.8 1408.2L1163.4 1428.3L1140.2 1428.3zM1155.5 1409.1L1167.1 1429.2L1143.9 1429.2zM1159.1 1409.1L1170.7 1429.2L1147.5 1429.2zM1162.7 1409.1L1174.3 1429.2L1151.1 1429.2zM1166.3 1408.6L1177.9 1428.7L1154.7 1428.7zM1169.8 1407.8L1181.4 1427.9L1158.2 1427.9zM1173.2 1407.0L1184.8 1427.1L1161.6 1427.1zM1176.6 1407.0L1188.2 1427.1L1165.0 1427.1zM1180.0 1408.0L1191.6 1428.1L1168.4 1428.1zM1183.3 1408.8L1194.9 1428.9L1171.7 1428.9zM1186.6 1409.4L1198.2 1429.5L1175.0 1429.5zM1189.8 1410.0L1201.4 1430.1L1178.2 1430.1zM1193.1 1410.5L1204.7 1430.6L1181.5 1430.6zM1196.2 1411.0L1207.8 1431.1L1184.6 1431.1zM1199.4 1411.5L1211.0 1431.6L1187.8 1431.6zM1202.5 1412.0L1214.1 1432.1L1190.9 1432.1zM1205.5 1412.5L1217.1 1432.6L1193.9 1432.6zM1208.6 1413.0L1220.2 1433.1L1197.0 1433.1zM1211.6 1413.1L1223.2 1433.2L1200.0 1433.2zM1214.5 1413.1L1226.1 1433.2L1202.9 1433.2zM1217.5 1413.1L1229.1 1433.2L1205.9 1433.2zM1220.4 1413.3L1232.0 1433.4L1208.8 1433.4zM1223.3 1413.5L1234.9 1433.6L1211.7 1433.6zM1226.1 1413.7L1237.7 1433.8L1214.5 1433.8zM1228.9 1414.0L1240.5 1434.1L1217.3 1434.1zM1231.7 1414.2L1243.3 1434.3L1220.1 1434.3zM1234.5 1414.4L1246.1 1434.5L1222.9 1434.5zM1237.2 1414.6L1248.8 1434.7L1225.6 1434.7zM1239.9 1414.9L1251.5 1435.0L1228.3 1435.0zM1242.6 1415.2L1254.2 1435.3L1231.0 1435.3zM1245.3 1415.4L1256.9 1435.5L1233.7 1435.5zM1247.9 1415.7L1259.5 1435.8L1236.3 1435.8zM1250.5 1416.0L1262.1 1436.1L1238.9 1436.1zM1253.1 1416.2L1264.7 1436.3L1241.5 1436.3zM1255.6 1416.3L1267.2 1436.4L1244.0 1436.4zM1258.2 1416.4L1269.8 1436.5L1246.6 1436.5zM1260.7 1416.5L1272.3 1436.6L1249.1 1436.6zM1263.2 1416.5L1274.8 1436.6L1251.6 1436.6zM1265.6 1416.6L1277.2 1436.7L1254.0 1436.7zM1268.1 1416.7L1279.7 1436.8L1256.5 1436.8zM1270.5 1416.7L1282.1 1436.8L1258.9 1436.8zM1272.9 1416.7L1284.5 1436.8L1261.3 1436.8zM1275.3 1416.7L1286.9 1436.8L1263.7 1436.8zM1277.7 1416.7L1289.3 1436.8L1266.1 1436.8zM1280.0 1416.7L1291.6 1436.8L1268.4 1436.8zM1282.3 1416.7L1293.9 1436.8L1270.7 1436.8zM1284.6 1416.8L1296.2 1436.9L1273.0 1436.9zM1286.9 1416.8L1298.5 1436.9L1275.3 1436.9zM1289.2 1416.8L1300.8 1436.9L1277.6 1436.9zM1291.4 1416.8L1303.0 1436.9L1279.8 1436.9zM1293.6 1416.8L1305.2 1436.9L1282.0 1436.9zM1295.8 1416.8L1307.4 1436.9L1284.2 1436.9zM1298.0 1416.8L1309.6 1436.9L1286.4 1436.9zM1300.2 1416.8L1311.8 1436.9L1288.6 1436.9zM1302.4 1416.8L1314.0 1436.9L1290.8 1436.9zM1304.5 1416.8L1316.1 1436.9L1292.9 1436.9zM1306.6 1416.8L1318.2 1436.9L1295.0 1436.9zM1308.7 1416.9L1320.3 1437.0L1297.1 1437.0zM1310.8 1416.9L1322.4 1437.0L1299.2 1437.0zM1312.9 1416.9L1324.5 1437.0L1301.3 1437.0zM1315.0 1416.9L1326.6 1437.0L1303.4 1437.0zM1317.0 1416.9L1328.6 1437.0L1305.4 1437.0zM1319.1 1416.9L1330.7 1437.0L1307.5 1437.0zM1321.1 1416.9L1332.7 1437.0L1309.5 1437.0zM1323.1 1417.0L1334.7 1437.1L1311.5 1437.1zM1325.1 1417.1L1336.7 1437.2L1313.5 1437.2zM1327.0 1417.1L1338.6 1437.2L1315.4 1437.2zM1329.0 1417.2L1340.6 1437.3L1317.4 1437.3zM1330.9 1417.2L1342.5 1437.3L1319.3 1437.3zM1332.9 1417.3L1344.5 1437.4L1321.3 1437.4zM1334.8 1417.4L1346.4 1437.5L1323.2 1437.5zM1336.7 1417.4L1348.3 1437.5L1325.1 1437.5zM1338.6 1417.5L1350.2 1437.6L1327.0 1437.6zM1340.5 1417.5L1352.1 1437.6L1328.9 1437.6zM1342.3 1417.6L1353.9 1437.7L1330.7 1437.7zM1344.2 1417.7L1355.8 1437.8L1332.6 1437.8zM1346.0 1417.7L1357.6 1437.8L1334.4 1437.8zM1347.8 1417.8L1359.4 1437.9L1336.2 1437.9zM1349.7 1417.8L1361.3 1437.9L1338.1 1437.9zM1351.5 1417.9L1363.1 1438.0L1339.9 1438.0zM1353.3 1417.9L1364.9 1438.0L1341.7 1438.0zM1355.0 1418.0L1366.6 1438.1L1343.4 1438.1zM1356.8 1418.0L1368.4 1438.1L1345.2 1438.1zM1358.6 1418.1L1370.2 1438.2L1347.0 1438.2zM1360.3 1418.2L1371.9 1438.3L1348.7 1438.3zM1362.1 1418.2L1373.7 1438.3L1350.5 1438.3zM1363.8 1418.3L1375.4 1438.4L1352.2 1438.4z" fill="#0a6fe3"/>
<path d="M327.7 1144.1L359.5 1154.3L391.4 431.5L423.2 1321.2L455.0 1275.9L486.8 1094.9L518.7 884.0L550.5 981.5L582.3 1120.0L614.2 1150.3L646.0 1258.2L677.8 1315.0L709.7 1336.3L741.5 1347.8L773.3 1355.1L805.1 1360.8L837.0 1372.0L868.8 1384.1L900.6 1391.8L932.5 1394.9L964.3 1396.9L983.5 1397.7L990.2 1398.4L996.8 1399.3L1003.2 1400.2L1009.5 1401.2L1015.6 1402.4L1021.6 1403.9L1027.5 1405.3L1033.3 1406.6L1038.9 1407.7L1044.4 1408.9L1049.8 1409.9L1055.2 1410.5L1060.4 1411.1L1065.5 1411.7L1070.5 1412.4L1075.4 1412.6L1080.3 1412.7L1085.0 1412.9L1089.7 1413.0L1094.3 1413.2L1098.9 1413.3L1103.3 1413.2L1107.7 1413.1L1112.0 1413.0L1116.3 1412.9L1120.4 1412.9L1124.6 1412.8L1128.6 1412.8L1132.6 1412.7L1136.6 1412.7L1140.5 1415.3L1144.3 1417.6L1148.1 1419.4L1151.8 1420.7L1155.5 1420.8L1159.1 1420.9L1162.7 1420.9L1166.3 1421.0L1169.8 1421.0L1173.2 1421.0L1176.6 1421.1L1180.0 1421.1L1183.3 1421.2L1186.6 1421.2L1189.8 1418.9L1193.1 1419.7L1196.2 1421.5L1199.4 1422.0L1202.5 1422.6L1205.5 1423.1L1208.6 1423.6L1211.6 1424.0L1214.5 1424.1L1217.5 1424.1L1220.4 1424.2L1223.3 1424.2L1226.1 1424.3L1228.9 1424.3L1231.7 1424.4L1234.5 1424.5L1237.2 1424.8L1239.9 1425.0L1242.6 1425.3L1245.3 1425.5L1247.9 1425.7L1250.5 1426.0L1253.1 1426.0L1255.6 1426.1L1258.2 1426.1L1260.7 1426.1L1263.2 1426.1L1265.6 1426.2L1268.1 1426.2L1270.5 1426.2L1272.9 1426.3L1275.3 1426.3L1277.7 1426.3L1280.0 1426.4L1282.3 1426.4L1284.6 1426.4L1286.9 1426.4L1289.2 1426.5L1291.4 1426.5L1293.6 1426.5L1295.8 1426.5L1298.0 1426.6L1300.2 1426.6L1302.4 1426.6L1304.5 1426.6L1306.6 1426.6L1308.7 1426.6L1310.8 1426.6L1312.9 1426.7L1315.0 1426.7L1317.0 1426.7L1319.1 1426.7L1321.1 1426.7L1323.1 1426.7L1325.1 1426.7L1327.0 1426.7L1329.0 1426.7L1330.9 1426.7L1332.9 1426.7L1334.8 1426.7L1336.7 1426.7L1338.6 1426.8L1340.5 1426.8L1342.3 1426.8L1344.2 1426.8L1346.0 1426.8L1347.8 1426.8L1349.7 1426.8L1351.5 1427.1L1353.3 1427.4L1355.0 1427.7L1356.8 1428.1L1358.6 1428.4L1360.3 1428.8L1362.1 1429.1L1363.8 1429.5" fill="none" stroke="#00ad66" stroke-width="5" stroke-linejoin="round" stroke-linecap="round"/>
<path d="M327.7 1158.3L339.3 1137.4L316.1 1137.4zM359.5 1168.5L371.1 1147.6L347.9 1147.6zM391.4 445.7L403.0 424.8L379.8 424.8zM423.2 1335.4L434.8 1314.5L411.6 1314.5zM455.0 1290.1L466.6 1269.2L443.4 1269.2zM486.8 1109.1L498.4 1088.2L475.2 1088.2zM518.7 898.2L530.3 877.3L507.1 877.3zM550.5 995.7L562.1 974.8L538.9 974.8zM582.3 1134.2L593.9 1113.3L570.7 1113.3zM614.2 1164.5L625.8 1143.6L602.6 1143.6zM646.0 1272.4L657.6 1251.5L634.4 1251.5zM677.8 1329.2L689.4 1308.3L666.2 1308.3zM709.7 1350.5L721.3 1329.6L698.1 1329.6zM741.5 1362.0L753.1 1341.1L729.9 1341.1zM773.3 1369.3L784.9 1348.4L761.7 1348.4zM805.1 1375.0L816.8 1354.1L793.5 1354.1zM837.0 1386.2L848.6 1365.3L825.4 1365.3zM868.8 1398.3L880.4 1377.4L857.2 1377.4zM900.6 1406.0L912.2 1385.1L889.0 1385.1zM932.5 1409.1L944.1 1388.2L920.9 1388.2zM964.3 1411.1L975.9 1390.2L952.7 1390.2zM983.5 1411.9L995.1 1391.0L971.9 1391.0zM990.2 1412.6L1001.8 1391.7L978.6 1391.7zM996.8 1413.5L1008.4 1392.6L985.2 1392.6zM1003.2 1414.4L1014.8 1393.5L991.6 1393.5zM1009.5 1415.4L1021.1 1394.5L997.9 1394.5zM1015.6 1416.6L1027.2 1395.7L1004.0 1395.7zM1021.6 1418.1L1033.2 1397.2L1010.0 1397.2zM1027.5 1419.5L1039.1 1398.6L1015.9 1398.6zM1033.3 1420.8L1044.9 1399.9L1021.7 1399.9zM1038.9 1421.9L1050.5 1401.0L1027.3 1401.0zM1044.4 1423.1L1056.0 1402.2L1032.8 1402.2zM1049.8 1424.1L1061.4 1403.2L1038.2 1403.2zM1055.2 1424.7L1066.8 1403.8L1043.6 1403.8zM1060.4 1425.3L1072.0 1404.4L1048.8 1404.4zM1065.5 1425.9L1077.1 1405.0L1053.9 1405.0zM1070.5 1426.6L1082.1 1405.7L1058.9 1405.7zM1075.4 1426.8L1087.0 1405.9L1063.8 1405.9zM1080.3 1426.9L1091.9 1406.0L1068.7 1406.0zM1085.0 1427.1L1096.6 1406.2L1073.4 1406.2zM1089.7 1427.2L1101.3 1406.3L1078.1 1406.3zM1094.3 1427.4L1105.9 1406.5L1082.7 1406.5zM1098.9 1427.5L1110.5 1406.6L1087.3 1406.6zM1103.3 1427.4L1114.9 1406.5L1091.7 1406.5zM1107.7 1427.3L1119.3 1406.4L1096.1 1406.4zM1112.0 1427.2L1123.6 1406.3L1100.4 1406.3zM1116.3 1427.1L1127.9 1406.2L1104.7 1406.2zM1120.4 1427.1L1132.0 1406.2L1108.8 1406.2zM1124.6 1427.0L1136.2 1406.1L1113.0 1406.1zM1128.6 1427.0L1140.2 1406.1L1117.0 1406.1zM1132.6 1426.9L1144.2 1406.0L1121.0 1406.0zM1136.6 1426.9L1148.2 1406.0L1125.0 1406.0zM1140.5 1429.5L1152.1 1408.6L1128.9 1408.6zM1144.3 1431.8L1155.9 1410.9L1132.7 1410.9zM1148.1 1433.6L1159.7 1412.7L1136.5 1412.7zM1151.8 1434.9L1163.4 1414.0L1140.2 1414.0zM1155.5 1435.0L1167.1 1414.1L1143.9 1414.1zM1159.1 1435.1L1170.7 1414.2L1147.5 1414.2zM1162.7 1435.1L1174.3 1414.2L1151.1 1414.2zM1166.3 1435.2L1177.9 1414.3L1154.7 1414.3zM1169.8 1435.2L1181.4 1414.3L1158.2 1414.3zM1173.2 1435.2L1184.8 1414.3L1161.6 1414.3zM1176.6 1435.3L1188.2 1414.4L1165.0 1414.4zM1180.0 1435.3L1191.6 1414.4L1168.4 1414.4zM1183.3 1435.4L1194.9 1414.5L1171.7 1414.5zM1186.6 1435.4L1198.2 1414.5L1175.0 1414.5zM1189.8 1433.1L1201.4 1412.2L1178.2 1412.2zM1193.1 1433.9L1204.7 1413.0L1181.5 1413.0zM1196.2 1435.7L1207.8 1414.8L1184.6 1414.8zM1199.4 1436.2L1211.0 1415.3L1187.8 1415.3zM1202.5 1436.8L1214.1 1415.9L1190.9 1415.9zM1205.5 1437.3L1217.1 1416.4L1193.9 1416.4zM1208.6 1437.8L1220.2 1416.9L1197.0 1416.9zM1211.6 1438.2L1223.2 1417.3L1200.0 1417.3zM1214.5 1438.3L1226.1 1417.4L1202.9 1417.4zM1217.5 1438.3L1229.1 1417.4L1205.9 1417.4zM1220.4 1438.4L1232.0 1417.5L1208.8 1417.5zM1223.3 1438.4L1234.9 1417.5L1211.7 1417.5zM1226.1 1438.5L1237.7 1417.6L1214.5 1417.6zM1228.9 1438.5L1240.5 1417.6L1217.3 1417.6zM1231.7 1438.6L1243.3 1417.7L1220.1 1417.7zM1234.5 1438.7L1246.1 1417.8L1222.9 1417.8zM1237.2 1439.0L1248.8 1418.1L1225.6 1418.1zM1239.9 1439.2L1251.5 1418.3L1228.3 1418.3zM1242.6 1439.5L1254.2 1418.6L1231.0 1418.6zM1245.3 1439.7L1256.9 1418.8L1233.7 1418.8zM1247.9 1439.9L1259.5 1419.0L1236.3 1419.0zM1250.5 1440.2L1262.1 1419.3L1238.9 1419.3zM1253.1 1440.2L1264.7 1419.3L1241.5 1419.3zM1255.6 1440.3L1267.2 1419.4L1244.0 1419.4zM1258.2 1440.3L1269.8 1419.4L1246.6 1419.4zM1260.7 1440.3L1272.3 1419.4L1249.1 1419.4zM1263.2 1440.3L1274.8 1419.4L1251.6 1419.4zM1265.6 1440.4L1277.2 1419.5L1254.0 1419.5zM1268.1 1440.4L1279.7 1419.5L1256.5 1419.5zM1270.5 1440.4L1282.1 1419.5L1258.9 1419.5zM1272.9 1440.5L1284.5 1419.6L1261.3 1419.6zM1275.3 1440.5L1286.9 1419.6L1263.7 1419.6zM1277.7 1440.5L1289.3 1419.6L1266.1 1419.6zM1280.0 1440.6L1291.6 1419.7L1268.4 1419.7zM1282.3 1440.6L1293.9 1419.7L1270.7 1419.7zM1284.6 1440.6L1296.2 1419.7L1273.0 1419.7zM1286.9 1440.6L1298.5 1419.7L1275.3 1419.7zM1289.2 1440.7L1300.8 1419.8L1277.6 1419.8zM1291.4 1440.7L1303.0 1419.8L1279.8 1419.8zM1293.6 1440.7L1305.2 1419.8L1282.0 1419.8zM1295.8 1440.7L1307.4 1419.8L1284.2 1419.8zM1298.0 1440.8L1309.6 1419.9L1286.4 1419.9zM1300.2 1440.8L1311.8 1419.9L1288.6 1419.9zM1302.4 1440.8L1314.0 1419.9L1290.8 1419.9zM1304.5 1440.8L1316.1 1419.9L1292.9 1419.9zM1306.6 1440.8L1318.2 1419.9L1295.0 1419.9zM1308.7 1440.8L1320.3 1419.9L1297.1 1419.9zM1310.8 1440.8L1322.4 1419.9L1299.2 1419.9zM1312.9 1440.9L1324.5 1420.0L1301.3 1420.0zM1315.0 1440.9L1326.6 1420.0L1303.4 1420.0zM1317.0 1440.9L1328.6 1420.0L1305.4 1420.0zM1319.1 1440.9L1330.7 1420.0L1307.5 1420.0zM1321.1 1440.9L1332.7 1420.0L1309.5 1420.0zM1323.1 1440.9L1334.7 1420.0L1311.5 1420.0zM1325.1 1440.9L1336.7 1420.0L1313.5 1420.0zM1327.0 1440.9L1338.6 1420.0L1315.4 1420.0zM1329.0 1440.9L1340.6 1420.0L1317.4 1420.0zM1330.9 1440.9L1342.5 1420.0L1319.3 1420.0zM1332.9 1440.9L1344.5 1420.0L1321.3 1420.0zM1334.8 1440.9L1346.4 1420.0L1323.2 1420.0zM1336.7 1440.9L1348.3 1420.0L1325.1 1420.0zM1338.6 1441.0L1350.2 1420.1L1327.0 1420.1zM1340.5 1441.0L1352.1 1420.1L1328.9 1420.1zM1342.3 1441.0L1353.9 1420.1L1330.7 1420.1zM1344.2 1441.0L1355.8 1420.1L1332.6 1420.1zM1346.0 1441.0L1357.6 1420.1L1334.4 1420.1zM1347.8 1441.0L1359.4 1420.1L1336.2 1420.1zM1349.7 1441.0L1361.3 1420.1L1338.1 1420.1zM1351.5 1441.3L1363.1 1420.4L1339.9 1420.4zM1353.3 1441.6L1364.9 1420.7L1341.7 1420.7zM1355.0 1441.9L1366.6 1421.0L1343.4 1421.0zM1356.8 1442.3L1368.4 1421.4L1345.2 1421.4zM1358.6 1442.6L1370.2 1421.7L1347.0 1421.7zM1360.3 1443.0L1371.9 1422.1L1348.7 1422.1zM1362.1 1443.3L1373.7 1422.4L1350.5 1422.4zM1363.8 1443.7L1375.4 1422.8L1352.2 1422.8z" fill="#00ad66"/>
<path d="M455.0 1427.5L486.8 1424.0L518.7 1418.6L550.5 1414.4L582.3 1410.0L614.2 1405.5L646.0 1401.6L677.8 1399.2L709.7 1398.3L741.5 1398.1L773.3 1399.3L805.1 1400.6L837.0 1402.9L868.8 1405.2L900.6 1407.3L932.5 1409.5L964.3 1411.0L983.5 1411.9L990.2 1412.5L996.8 1413.1L1003.2 1414.1L1009.5 1415.1L1015.6 1416.1L1021.6 1417.1L1027.5 1418.2L1033.3 1419.1L1038.9 1419.9L1044.4 1420.6L1049.8 1421.3L1055.2 1421.6L1060.4 1421.9L1065.5 1422.1L1070.5 1422.5L1075.4 1423.3L1080.3 1424.0L1085.0 1424.7L1089.7 1425.3L1094.3 1425.7L1098.9 1426.2L1103.3 1426.6L1107.7 1426.9L1112.0 1427.1L1116.3 1427.3L1120.4 1427.5L1124.6 1427.7L1128.6 1427.8L1132.6 1427.8L1136.6 1427.8L1140.5 1427.8L1144.3 1427.8L1148.1 1427.8L1151.8 1427.8L1155.5 1427.8L1159.1 1427.8L1162.7 1427.9L1166.3 1427.9L1169.8 1427.9L1173.2 1427.9L1176.6 1427.9L1180.0 1427.9L1183.3 1427.9L1186.6 1427.9L1189.8 1427.9L1193.1 1428.1L1196.2 1428.2L1199.4 1428.4L1202.5 1428.6L1205.5 1428.8L1208.6 1428.9L1211.6 1429.1L1214.5 1429.3L1217.5 1429.4L1220.4 1429.6L1223.3 1429.7L1226.1 1429.9L1228.9 1430.0L1231.7 1430.2L1234.5 1430.3L1237.2 1430.5L1239.9 1430.6L1242.6 1430.8L1245.3 1430.9L1247.9 1431.1L1250.5 1431.2L1253.1 1431.4L1255.6 1431.5L1258.2 1431.6L1260.7 1431.8L1263.2 1431.9L1265.6 1432.1L1268.1 1432.2L1270.5 1432.3L1272.9 1432.3L1275.3 1432.3L1277.7 1432.3L1280.0 1432.3L1282.3 1432.3L1284.6 1432.3L1286.9 1432.4L1289.2 1432.4L1291.4 1432.4L1293.6 1432.4L1295.8 1432.4L1298.0 1432.4L1300.2 1432.4L1302.4 1432.4L1304.5 1432.4L1306.6 1432.4L1308.7 1432.4L1310.8 1432.4L1312.9 1432.4L1315.0 1432.4L1317.0 1432.4L1319.1 1432.5L1321.1 1432.5L1323.1 1432.5L1325.1 1432.5L1327.0 1432.5L1329.0 1432.5L1330.9 1432.5L1332.9 1432.5L1334.8 1432.5L1336.7 1432.5L1338.6 1432.5L1340.5 1432.5L1342.3 1432.5L1344.2 1432.5L1346.0 1432.5L1347.8 1432.5L1349.7 1432.5L1351.5 1432.6L1353.3 1432.6L1355.0 1432.6L1356.8 1432.6L1358.6 1432.6L1360.3 1432.6L1362.1 1432.6L1363.8 1432.6" fill="none" stroke="#c078e2" stroke-width="5" stroke-linejoin="round" stroke-linecap="round"/>
<path d="M455.0 1414.9L467.6 1427.5L455.0 1440.1L442.4 1427.5zM486.8 1411.4L499.4 1424.0L486.8 1436.6L474.2 1424.0zM518.7 1406.0L531.3 1418.6L518.7 1431.2L506.1 1418.6zM550.5 1401.8L563.1 1414.4L550.5 1427.0L537.9 1414.4zM582.3 1397.4L594.9 1410.0L582.3 1422.6L569.7 1410.0zM614.2 1392.9L626.8 1405.5L614.2 1418.1L601.6 1405.5zM646.0 1389.0L658.6 1401.6L646.0 1414.2L633.4 1401.6zM677.8 1386.6L690.4 1399.2L677.8 1411.8L665.2 1399.2zM709.7 1385.7L722.3 1398.3L709.7 1410.9L697.1 1398.3zM741.5 1385.5L754.1 1398.1L741.5 1410.7L728.9 1398.1zM773.3 1386.7L785.9 1399.3L773.3 1411.9L760.7 1399.3zM805.1 1388.0L817.8 1400.6L805.1 1413.2L792.5 1400.6zM837.0 1390.3L849.6 1402.9L837.0 1415.5L824.4 1402.9zM868.8 1392.6L881.4 1405.2L868.8 1417.8L856.2 1405.2zM900.6 1394.7L913.2 1407.3L900.6 1419.9L888.0 1407.3zM932.5 1396.9L945.1 1409.5L932.5 1422.1L919.9 1409.5zM964.3 1398.4L976.9 1411.0L964.3 1423.6L951.7 1411.0zM983.5 1399.3L996.1 1411.9L983.5 1424.5L970.9 1411.9zM990.2 1399.9L1002.8 1412.5L990.2 1425.1L977.6 1412.5zM996.8 1400.5L1009.4 1413.1L996.8 1425.7L984.2 1413.1zM1003.2 1401.5L1015.8 1414.1L1003.2 1426.7L990.6 1414.1zM1009.5 1402.5L1022.1 1415.1L1009.5 1427.7L996.9 1415.1zM1015.6 1403.5L1028.2 1416.1L1015.6 1428.7L1003.0 1416.1zM1021.6 1404.5L1034.2 1417.1L1021.6 1429.7L1009.0 1417.1zM1027.5 1405.6L1040.1 1418.2L1027.5 1430.8L1014.9 1418.2zM1033.3 1406.5L1045.9 1419.1L1033.3 1431.7L1020.7 1419.1zM1038.9 1407.3L1051.5 1419.9L1038.9 1432.5L1026.3 1419.9zM1044.4 1408.0L1057.0 1420.6L1044.4 1433.2L1031.8 1420.6zM1049.8 1408.7L1062.4 1421.3L1049.8 1433.9L1037.2 1421.3zM1055.2 1409.0L1067.8 1421.6L1055.2 1434.2L1042.6 1421.6zM1060.4 1409.3L1073.0 1421.9L1060.4 1434.5L1047.8 1421.9zM1065.5 1409.5L1078.1 1422.1L1065.5 1434.7L1052.9 1422.1zM1070.5 1409.9L1083.1 1422.5L1070.5 1435.1L1057.9 1422.5zM1075.4 1410.7L1088.0 1423.3L1075.4 1435.9L1062.8 1423.3zM1080.3 1411.4L1092.9 1424.0L1080.3 1436.6L1067.7 1424.0zM1085.0 1412.1L1097.6 1424.7L1085.0 1437.3L1072.4 1424.7zM1089.7 1412.7L1102.3 1425.3L1089.7 1437.9L1077.1 1425.3zM1094.3 1413.1L1106.9 1425.7L1094.3 1438.3L1081.7 1425.7zM1098.9 1413.6L1111.5 1426.2L1098.9 1438.8L1086.3 1426.2zM1103.3 1414.0L1115.9 1426.6L1103.3 1439.2L1090.7 1426.6zM1107.7 1414.3L1120.3 1426.9L1107.7 1439.5L1095.1 1426.9zM1112.0 1414.5L1124.6 1427.1L1112.0 1439.7L1099.4 1427.1zM1116.3 1414.7L1128.9 1427.3L1116.3 1439.9L1103.7 1427.3zM1120.4 1414.9L1133.0 1427.5L1120.4 1440.1L1107.8 1427.5zM1124.6 1415.1L1137.2 1427.7L1124.6 1440.3L1112.0 1427.7zM1128.6 1415.2L1141.2 1427.8L1128.6 1440.4L1116.0 1427.8zM1132.6 1415.2L1145.2 1427.8L1132.6 1440.4L1120.0 1427.8zM1136.6 1415.2L1149.2 1427.8L1136.6 1440.4L1124.0 1427.8zM1140.5 1415.2L1153.1 1427.8L1140.5 1440.4L1127.9 1427.8zM1144.3 1415.2L1156.9 1427.8L1144.3 1440.4L1131.7 1427.8zM1148.1 1415.2L1160.7 1427.8L1148.1 1440.4L1135.5 1427.8zM1151.8 1415.2L1164.4 1427.8L1151.8 1440.4L1139.2 1427.8zM1155.5 1415.2L1168.1 1427.8L1155.5 1440.4L1142.9 1427.8zM1159.1 1415.2L1171.7 1427.8L1159.1 1440.4L1146.5 1427.8zM1162.7 1415.3L1175.3 1427.9L1162.7 1440.5L1150.1 1427.9zM1166.3 1415.3L1178.9 1427.9L1166.3 1440.5L1153.7 1427.9zM1169.8 1415.3L1182.4 1427.9L1169.8 1440.5L1157.2 1427.9zM1173.2 1415.3L1185.8 1427.9L1173.2 1440.5L1160.6 1427.9zM1176.6 1415.3L1189.2 1427.9L1176.6 1440.5L1164.0 1427.9zM1180.0 1415.3L1192.6 1427.9L1180.0 1440.5L1167.4 1427.9zM1183.3 1415.3L1195.9 1427.9L1183.3 1440.5L1170.7 1427.9zM1186.6 1415.3L1199.2 1427.9L1186.6 1440.5L1174.0 1427.9zM1189.8 1415.3L1202.4 1427.9L1189.8 1440.5L1177.2 1427.9zM1193.1 1415.5L1205.7 1428.1L1193.1 1440.7L1180.5 1428.1zM1196.2 1415.6L1208.8 1428.2L1196.2 1440.8L1183.6 1428.2zM1199.4 1415.8L1212.0 1428.4L1199.4 1441.0L1186.8 1428.4zM1202.5 1416.0L1215.1 1428.6L1202.5 1441.2L1189.9 1428.6zM1205.5 1416.2L1218.1 1428.8L1205.5 1441.4L1192.9 1428.8zM1208.6 1416.3L1221.2 1428.9L1208.6 1441.5L1196.0 1428.9zM1211.6 1416.5L1224.2 1429.1L1211.6 1441.7L1199.0 1429.1zM1214.5 1416.7L1227.1 1429.3L1214.5 1441.9L1201.9 1429.3zM1217.5 1416.8L1230.1 1429.4L1217.5 1442.0L1204.9 1429.4zM1220.4 1417.0L1233.0 1429.6L1220.4 1442.2L1207.8 1429.6zM1223.3 1417.1L1235.9 1429.7L1223.3 1442.3L1210.7 1429.7zM1226.1 1417.3L1238.7 1429.9L1226.1 1442.5L1213.5 1429.9zM1228.9 1417.4L1241.5 1430.0L1228.9 1442.6L1216.3 1430.0zM1231.7 1417.6L1244.3 1430.2L1231.7 1442.8L1219.1 1430.2zM1234.5 1417.7L1247.1 1430.3L1234.5 1442.9L1221.9 1430.3zM1237.2 1417.9L1249.8 1430.5L1237.2 1443.1L1224.6 1430.5zM1239.9 1418.0L1252.5 1430.6L1239.9 1443.2L1227.3 1430.6zM1242.6 1418.2L1255.2 1430.8L1242.6 1443.4L1230.0 1430.8zM1245.3 1418.3L1257.9 1430.9L1245.3 1443.5L1232.7 1430.9zM1247.9 1418.5L1260.5 1431.1L1247.9 1443.7L1235.3 1431.1zM1250.5 1418.6L1263.1 1431.2L1250.5 1443.8L1237.9 1431.2zM1253.1 1418.8L1265.7 1431.4L1253.1 1444.0L1240.5 1431.4zM1255.6 1418.9L1268.2 1431.5L1255.6 1444.1L1243.0 1431.5zM1258.2 1419.0L1270.8 1431.6L1258.2 1444.2L1245.6 1431.6zM1260.7 1419.2L1273.3 1431.8L1260.7 1444.4L1248.1 1431.8zM1263.2 1419.3L1275.8 1431.9L1263.2 1444.5L1250.6 1431.9zM1265.6 1419.5L1278.2 1432.1L1265.6 1444.7L1253.0 1432.1zM1268.1 1419.6L1280.7 1432.2L1268.1 1444.8L1255.5 1432.2zM1270.5 1419.7L1283.1 1432.3L1270.5 1444.9L1257.9 1432.3zM1272.9 1419.7L1285.5 1432.3L1272.9 1444.9L1260.3 1432.3zM1275.3 1419.7L1287.9 1432.3L1275.3 1444.9L1262.7 1432.3zM1277.7 1419.7L1290.3 1432.3L1277.7 1444.9L1265.1 1432.3zM1280.0 1419.7L1292.6 1432.3L1280.0 1444.9L1267.4 1432.3zM1282.3 1419.7L1294.9 1432.3L1282.3 1444.9L1269.7 1432.3zM1284.6 1419.7L1297.2 1432.3L1284.6 1444.9L1272.0 1432.3zM1286.9 1419.8L1299.5 1432.4L1286.9 1445.0L1274.3 1432.4zM1289.2 1419.8L1301.8 1432.4L1289.2 1445.0L1276.6 1432.4zM1291.4 1419.8L1304.0 1432.4L1291.4 1445.0L1278.8 1432.4zM1293.6 1419.8L1306.2 1432.4L1293.6 1445.0L1281.0 1432.4zM1295.8 1419.8L1308.4 1432.4L1295.8 1445.0L1283.2 1432.4zM1298.0 1419.8L1310.6 1432.4L1298.0 1445.0L1285.4 1432.4zM1300.2 1419.8L1312.8 1432.4L1300.2 1445.0L1287.6 1432.4zM1302.4 1419.8L1315.0 1432.4L1302.4 1445.0L1289.8 1432.4zM1304.5 1419.8L1317.1 1432.4L1304.5 1445.0L1291.9 1432.4zM1306.6 1419.8L1319.2 1432.4L1306.6 1445.0L1294.0 1432.4zM1308.7 1419.8L1321.3 1432.4L1308.7 1445.0L1296.1 1432.4zM1310.8 1419.8L1323.4 1432.4L1310.8 1445.0L1298.2 1432.4zM1312.9 1419.8L1325.5 1432.4L1312.9 1445.0L1300.3 1432.4zM1315.0 1419.8L1327.6 1432.4L1315.0 1445.0L1302.4 1432.4zM1317.0 1419.8L1329.6 1432.4L1317.0 1445.0L1304.4 1432.4zM1319.1 1419.9L1331.7 1432.5L1319.1 1445.1L1306.5 1432.5zM1321.1 1419.9L1333.7 1432.5L1321.1 1445.1L1308.5 1432.5zM1323.1 1419.9L1335.7 1432.5L1323.1 1445.1L1310.5 1432.5zM1325.1 1419.9L1337.7 1432.5L1325.1 1445.1L1312.5 1432.5zM1327.0 1419.9L1339.6 1432.5L1327.0 1445.1L1314.4 1432.5zM1329.0 1419.9L1341.6 1432.5L1329.0 1445.1L1316.4 1432.5zM1330.9 1419.9L1343.5 1432.5L1330.9 1445.1L1318.3 1432.5zM1332.9 1419.9L1345.5 1432.5L1332.9 1445.1L1320.3 1432.5zM1334.8 1419.9L1347.4 1432.5L1334.8 1445.1L1322.2 1432.5zM1336.7 1419.9L1349.3 1432.5L1336.7 1445.1L1324.1 1432.5zM1338.6 1419.9L1351.2 1432.5L1338.6 1445.1L1326.0 1432.5zM1340.5 1419.9L1353.1 1432.5L1340.5 1445.1L1327.9 1432.5zM1342.3 1419.9L1354.9 1432.5L1342.3 1445.1L1329.7 1432.5zM1344.2 1419.9L1356.8 1432.5L1344.2 1445.1L1331.6 1432.5zM1346.0 1419.9L1358.6 1432.5L1346.0 1445.1L1333.4 1432.5zM1347.8 1419.9L1360.4 1432.5L1347.8 1445.1L1335.2 1432.5zM1349.7 1419.9L1362.3 1432.5L1349.7 1445.1L1337.1 1432.5zM1351.5 1420.0L1364.1 1432.6L1351.5 1445.2L1338.9 1432.6zM1353.3 1420.0L1365.9 1432.6L1353.3 1445.2L1340.7 1432.6zM1355.0 1420.0L1367.6 1432.6L1355.0 1445.2L1342.4 1432.6zM1356.8 1420.0L1369.4 1432.6L1356.8 1445.2L1344.2 1432.6zM1358.6 1420.0L1371.2 1432.6L1358.6 1445.2L1346.0 1432.6zM1360.3 1420.0L1372.9 1432.6L1360.3 1445.2L1347.7 1432.6zM1362.1 1420.0L1374.7 1432.6L1362.1 1445.2L1349.5 1432.6zM1363.8 1420.0L1376.4 1432.6L1363.8 1445.2L1351.2 1432.6z" fill="#c078e2"/>
<path d="M257.7 1434.6L289.5 1434.6L321.3 1434.6L353.2 1434.6L385.0 1434.6L416.8 1434.6L448.6 1434.6L480.4 1434.6L512.3 1434.6L544.1 1434.6L575.9 1434.6L607.7 1434.6L639.5 1434.6L671.4 1434.6L703.2 1434.6L735.0 1434.6L766.8 1434.6L798.6 1434.6L830.5 1434.6L862.3 1434.6L894.1 1434.6L925.9 1434.6L957.7 1434.6L981.6 1434.6L988.6 1434.6L995.5 1434.6L1002.2 1434.6L1008.8 1434.6L1015.2 1434.6L1021.4 1434.6L1027.5 1434.6L1033.5 1434.6L1039.4 1434.6L1045.1 1434.6L1050.7 1434.6L1056.2 1434.6L1061.6 1434.6L1066.9 1434.6L1072.1 1434.6L1077.2 1434.6L1082.2 1434.6L1087.1 1434.6L1092.0 1434.6L1096.7 1434.6L1101.4 1434.6L1106.0 1434.6L1110.5 1434.6L1114.9 1434.6L1119.3 1434.6L1123.6 1434.6L1161.5 1434.6L1198.8 1434.6L1209.9 1434.6L1219.9 1434.6L1228.9 1434.6L1237.9 1434.6L1246.9 1434.6L1255.3 1434.6L1263.4 1434.6L1271.4 1434.6L1279.4 1434.6L1287.2 1434.6L1294.8 1434.6L1302.3 1434.6L1309.7 1434.6L1317.0 1434.6L1324.2 1434.6L1331.4 1434.6L1338.4 1434.6L1345.4 1434.6L1352.3 1434.6L1359.1 1434.6L1365.9 1434.6L1372.5 1434.6L1379.1 1434.6L1385.7 1434.6L1392.1 1434.6L1398.5 1434.6L1404.8 1434.6L1411.2 1434.6L1417.5 1434.6L1424.0 1434.6L1430.4 1434.6L1436.9 1434.6L1443.5 1434.6L1450.3 1434.6L1457.1 1434.6L1464.0 1434.6L1471.1 1434.6L1478.2 1434.6L1485.5 1434.6L1492.9 1434.6L1500.5 1434.6L1508.2 1434.6L1520.3 1434.6L1532.0 1434.6L1542.7 1434.6L1551.7 1434.6L1560.7 1434.6L1570.6 1434.6L1585.6 1434.6L1600.7 1434.6L1611.8 1434.6L1631.7 1434.6L1650.7 1434.6L1662.7 1434.6L1674.8 1434.6L1685.8 1434.6L1697.6 1434.6L1708.6 1434.6L1720.7 1434.6L1731.7 1434.6" fill="none" stroke="#dc9a05" stroke-width="5" stroke-linejoin="round" stroke-linecap="round"/>
<path d="M244.8 1434.4L265.0 1422.7L265.0 1446.1zM276.6 1434.4L296.8 1422.7L296.8 1446.1zM308.4 1434.4L328.6 1422.7L328.6 1446.1zM340.3 1434.4L360.5 1422.7L360.5 1446.1zM372.1 1434.4L392.3 1422.7L392.3 1446.1zM403.9 1434.4L424.1 1422.7L424.1 1446.1zM435.7 1434.4L455.9 1422.7L455.9 1446.1zM467.5 1434.4L487.7 1422.7L487.7 1446.1zM499.4 1434.4L519.6 1422.7L519.6 1446.1zM531.2 1434.4L551.4 1422.7L551.4 1446.1zM563.0 1434.4L583.2 1422.7L583.2 1446.1zM594.8 1434.4L615.0 1422.7L615.0 1446.1zM626.6 1434.4L646.8 1422.7L646.8 1446.1zM658.5 1434.4L678.7 1422.7L678.7 1446.1zM690.3 1434.4L710.5 1422.7L710.5 1446.1zM722.1 1434.4L742.3 1422.7L742.3 1446.1zM753.9 1434.4L774.1 1422.7L774.1 1446.1zM785.7 1434.4L805.9 1422.7L805.9 1446.1zM817.6 1434.4L837.8 1422.7L837.8 1446.1zM849.4 1434.4L869.6 1422.7L869.6 1446.1zM881.2 1434.4L901.4 1422.7L901.4 1446.1zM913.0 1434.4L933.2 1422.7L933.2 1446.1zM944.8 1434.4L965.0 1422.7L965.0 1446.1zM968.7 1434.4L988.9 1422.7L988.9 1446.1zM975.7 1434.4L995.9 1422.7L995.9 1446.1zM982.6 1434.4L1002.8 1422.7L1002.8 1446.1zM989.3 1434.4L1009.5 1422.7L1009.5 1446.1zM995.9 1434.4L1016.1 1422.7L1016.1 1446.1zM1002.3 1434.4L1022.5 1422.7L1022.5 1446.1zM1008.5 1434.4L1028.7 1422.7L1028.7 1446.1zM1014.6 1434.4L1034.8 1422.7L1034.8 1446.1zM1020.6 1434.4L1040.8 1422.7L1040.8 1446.1zM1026.5 1434.4L1046.7 1422.7L1046.7 1446.1zM1032.2 1434.4L1052.4 1422.7L1052.4 1446.1zM1037.8 1434.4L1058.0 1422.7L1058.0 1446.1zM1043.3 1434.4L1063.5 1422.7L1063.5 1446.1zM1048.7 1434.4L1068.9 1422.7L1068.9 1446.1zM1054.0 1434.4L1074.2 1422.7L1074.2 1446.1zM1059.2 1434.4L1079.4 1422.7L1079.4 1446.1zM1064.3 1434.4L1084.5 1422.7L1084.5 1446.1zM1069.3 1434.4L1089.5 1422.7L1089.5 1446.1zM1074.2 1434.4L1094.4 1422.7L1094.4 1446.1zM1079.1 1434.4L1099.3 1422.7L1099.3 1446.1zM1083.8 1434.4L1104.0 1422.7L1104.0 1446.1zM1088.5 1434.4L1108.7 1422.7L1108.7 1446.1zM1093.1 1434.4L1113.3 1422.7L1113.3 1446.1zM1097.6 1434.4L1117.8 1422.7L1117.8 1446.1zM1102.0 1434.4L1122.2 1422.7L1122.2 1446.1zM1106.4 1434.4L1126.6 1422.7L1126.6 1446.1zM1110.7 1434.4L1130.9 1422.7L1130.9 1446.1zM1148.6 1434.4L1168.8 1422.7L1168.8 1446.1zM1185.9 1434.4L1206.1 1422.7L1206.1 1446.1zM1197.0 1434.4L1217.2 1422.7L1217.2 1446.1zM1207.0 1434.4L1227.2 1422.7L1227.2 1446.1zM1216.0 1434.4L1236.2 1422.7L1236.2 1446.1zM1225.0 1434.4L1245.2 1422.7L1245.2 1446.1zM1234.0 1434.4L1254.2 1422.7L1254.2 1446.1zM1242.4 1434.4L1262.6 1422.7L1262.6 1446.1zM1250.5 1434.4L1270.7 1422.7L1270.7 1446.1zM1258.5 1434.4L1278.7 1422.7L1278.7 1446.1zM1266.5 1434.4L1286.7 1422.7L1286.7 1446.1zM1274.3 1434.4L1294.5 1422.7L1294.5 1446.1zM1281.9 1434.4L1302.1 1422.7L1302.1 1446.1zM1289.4 1434.4L1309.6 1422.7L1309.6 1446.1zM1296.8 1434.4L1317.0 1422.7L1317.0 1446.1zM1304.1 1434.4L1324.3 1422.7L1324.3 1446.1zM1311.3 1434.4L1331.5 1422.7L1331.5 1446.1zM1318.5 1434.4L1338.7 1422.7L1338.7 1446.1zM1325.5 1434.4L1345.7 1422.7L1345.7 1446.1zM1332.5 1434.4L1352.7 1422.7L1352.7 1446.1zM1339.4 1434.4L1359.6 1422.7L1359.6 1446.1zM1346.2 1434.4L1366.4 1422.7L1366.4 1446.1zM1353.0 1434.4L1373.2 1422.7L1373.2 1446.1zM1359.6 1434.4L1379.8 1422.7L1379.8 1446.1zM1366.2 1434.4L1386.4 1422.7L1386.4 1446.1zM1372.8 1434.4L1393.0 1422.7L1393.0 1446.1zM1379.2 1434.4L1399.4 1422.7L1399.4 1446.1zM1385.6 1434.4L1405.8 1422.7L1405.8 1446.1zM1391.9 1434.4L1412.1 1422.7L1412.1 1446.1zM1398.3 1434.4L1418.5 1422.7L1418.5 1446.1zM1404.6 1434.4L1424.8 1422.7L1424.8 1446.1zM1411.1 1434.4L1431.3 1422.7L1431.3 1446.1zM1417.5 1434.4L1437.7 1422.7L1437.7 1446.1zM1424.0 1434.4L1444.2 1422.7L1444.2 1446.1zM1430.6 1434.4L1450.8 1422.7L1450.8 1446.1zM1437.4 1434.4L1457.6 1422.7L1457.6 1446.1zM1444.2 1434.4L1464.4 1422.7L1464.4 1446.1zM1451.1 1434.4L1471.3 1422.7L1471.3 1446.1zM1458.2 1434.4L1478.4 1422.7L1478.4 1446.1zM1465.3 1434.4L1485.5 1422.7L1485.5 1446.1zM1472.6 1434.4L1492.8 1422.7L1492.8 1446.1zM1480.0 1434.4L1500.2 1422.7L1500.2 1446.1zM1487.6 1434.4L1507.8 1422.7L1507.8 1446.1zM1495.3 1434.4L1515.5 1422.7L1515.5 1446.1zM1507.4 1434.4L1527.6 1422.7L1527.6 1446.1zM1519.1 1434.4L1539.3 1422.7L1539.3 1446.1zM1529.8 1434.4L1550.0 1422.7L1550.0 1446.1zM1538.8 1434.4L1559.0 1422.7L1559.0 1446.1zM1547.8 1434.4L1568.0 1422.7L1568.0 1446.1zM1557.7 1434.4L1577.9 1422.7L1577.9 1446.1zM1572.7 1434.4L1592.9 1422.7L1592.9 1446.1zM1587.8 1434.4L1608.0 1422.7L1608.0 1446.1zM1598.9 1434.4L1619.1 1422.7L1619.1 1446.1zM1618.8 1434.4L1639.0 1422.7L1639.0 1446.1zM1637.8 1434.4L1658.0 1422.7L1658.0 1446.1zM1649.8 1434.4L1670.0 1422.7L1670.0 1446.1zM1661.9 1434.4L1682.1 1422.7L1682.1 1446.1zM1672.9 1434.4L1693.1 1422.7L1693.1 1446.1zM1684.7 1434.4L1704.9 1422.7L1704.9 1446.1zM1695.7 1434.4L1715.9 1422.7L1715.9 1446.1zM1707.8 1434.4L1728.0 1422.7L1728.0 1446.1zM1718.8 1434.4L1739.0 1422.7L1739.0 1446.1z" fill="#dc9a05"/>
<path d="M257.7 1434.6L289.5 1434.6L321.3 1434.6L353.2 1434.6L385.0 1434.6L416.8 1434.6L448.6 1434.6L480.4 1434.6L512.3 1434.6L544.1 1434.6L575.9 1434.6L607.7 1434.6L639.5 1434.6L671.4 1434.6L703.2 1434.6L735.0 1434.6L766.8 1434.6L798.6 1434.6L830.5 1434.6L862.3 1434.6L894.1 1434.6L925.9 1434.6L957.7 1434.6L981.6 1434.6L988.6 1434.6L995.5 1434.6L1002.2 1434.6L1008.8 1434.6L1015.2 1434.6L1021.4 1434.6L1027.5 1434.6L1033.5 1434.6L1039.4 1434.6L1045.1 1434.6L1050.7 1434.6L1056.2 1434.6L1061.6 1434.6L1066.9 1434.6L1072.1 1434.6L1077.2 1434.6L1082.2 1434.6L1087.1 1434.6L1092.0 1434.6L1096.7 1434.6L1101.4 1434.6L1106.0 1434.6L1110.5 1434.6L1114.9 1434.6L1119.3 1434.6L1123.6 1434.6L1161.5 1434.6L1198.8 1434.6L1209.9 1434.6L1219.9 1434.6L1228.9 1434.6L1237.9 1434.6L1246.9 1434.6L1255.3 1434.6L1263.4 1434.6L1271.4 1434.6L1279.4 1434.6L1287.2 1434.6L1294.8 1434.6L1302.3 1434.6L1309.7 1434.6L1317.0 1434.6L1324.2 1434.6L1331.4 1434.6L1338.4 1434.6L1345.4 1434.6L1352.3 1434.6L1359.1 1434.6L1365.9 1434.6L1372.5 1434.6L1379.1 1434.6L1385.7 1434.6L1392.1 1434.6L1398.5 1434.6L1404.8 1434.6L1411.2 1434.6L1417.5 1434.6L1424.0 1434.6L1430.4 1434.6L1436.9 1434.6L1443.5 1434.6L1450.3 1434.6L1457.1 1434.6L1464.0 1434.6L1471.1 1434.6L1478.2 1434.6L1485.5 1434.6L1492.9 1434.6L1500.5 1434.6L1508.2 1434.6L1520.3 1434.6L1532.0 1434.6L1542.7 1434.6L1551.7 1434.6L1560.7 1434.6L1570.6 1434.6L1585.6 1434.6L1600.7 1434.6L1611.8 1434.4L1631.7 1433.5L1650.7 1432.5L1662.7 1429.5L1674.8 1428.3L1685.8 1427.6L1697.6 1427.5L1708.6 1427.5L1720.7 1427.4L1731.7 1427.4" fill="none" stroke="#00cbce" stroke-width="5" stroke-linejoin="round" stroke-linecap="round"/>
<path d="M271.1 1434.6L251.0 1422.8L251.0 1446.4zM302.9 1434.6L282.8 1422.8L282.8 1446.4zM334.7 1434.6L314.6 1422.8L314.6 1446.4zM366.6 1434.6L346.5 1422.8L346.5 1446.4zM398.4 1434.6L378.3 1422.8L378.3 1446.4zM430.2 1434.6L410.1 1422.8L410.1 1446.4zM462.0 1434.6L441.9 1422.8L441.9 1446.4zM493.8 1434.6L473.7 1422.8L473.7 1446.4zM525.7 1434.6L505.6 1422.8L505.6 1446.4zM557.5 1434.6L537.4 1422.8L537.4 1446.4zM589.3 1434.6L569.2 1422.8L569.2 1446.4zM621.1 1434.6L601.0 1422.8L601.0 1446.4zM652.9 1434.6L632.8 1422.8L632.8 1446.4zM684.8 1434.6L664.7 1422.8L664.7 1446.4zM716.6 1434.6L696.5 1422.8L696.5 1446.4zM748.4 1434.6L728.3 1422.8L728.3 1446.4zM780.2 1434.6L760.1 1422.8L760.1 1446.4zM812.0 1434.6L791.9 1422.8L791.9 1446.4zM843.9 1434.6L823.8 1422.8L823.8 1446.4zM875.7 1434.6L855.6 1422.8L855.6 1446.4zM907.5 1434.6L887.4 1422.8L887.4 1446.4zM939.3 1434.6L919.2 1422.8L919.2 1446.4zM971.1 1434.6L951.0 1422.8L951.0 1446.4zM995.0 1434.6L974.9 1422.8L974.9 1446.4zM1002.0 1434.6L981.9 1422.8L981.9 1446.4zM1008.9 1434.6L988.8 1422.8L988.8 1446.4zM1015.6 1434.6L995.5 1422.8L995.5 1446.4zM1022.2 1434.6L1002.1 1422.8L1002.1 1446.4zM1028.6 1434.6L1008.5 1422.8L1008.5 1446.4zM1034.8 1434.6L1014.7 1422.8L1014.7 1446.4zM1040.9 1434.6L1020.8 1422.8L1020.8 1446.4zM1046.9 1434.6L1026.8 1422.8L1026.8 1446.4zM1052.8 1434.6L1032.7 1422.8L1032.7 1446.4zM1058.5 1434.6L1038.4 1422.8L1038.4 1446.4zM1064.1 1434.6L1044.0 1422.8L1044.0 1446.4zM1069.6 1434.6L1049.5 1422.8L1049.5 1446.4zM1075.0 1434.6L1054.9 1422.8L1054.9 1446.4zM1080.3 1434.6L1060.2 1422.8L1060.2 1446.4zM1085.5 1434.6L1065.4 1422.8L1065.4 1446.4zM1090.6 1434.6L1070.5 1422.8L1070.5 1446.4zM1095.6 1434.6L1075.5 1422.8L1075.5 1446.4zM1100.5 1434.6L1080.4 1422.8L1080.4 1446.4zM1105.4 1434.6L1085.3 1422.8L1085.3 1446.4zM1110.1 1434.6L1090.0 1422.8L1090.0 1446.4zM1114.8 1434.6L1094.7 1422.8L1094.7 1446.4zM1119.4 1434.6L1099.3 1422.8L1099.3 1446.4zM1123.9 1434.6L1103.8 1422.8L1103.8 1446.4zM1128.3 1434.6L1108.2 1422.8L1108.2 1446.4zM1132.7 1434.6L1112.6 1422.8L1112.6 1446.4zM1137.0 1434.6L1116.9 1422.8L1116.9 1446.4zM1174.9 1434.6L1154.8 1422.8L1154.8 1446.4zM1212.2 1434.6L1192.1 1422.8L1192.1 1446.4zM1223.3 1434.6L1203.2 1422.8L1203.2 1446.4zM1233.3 1434.6L1213.2 1422.8L1213.2 1446.4zM1242.3 1434.6L1222.2 1422.8L1222.2 1446.4zM1251.3 1434.6L1231.2 1422.8L1231.2 1446.4zM1260.3 1434.6L1240.2 1422.8L1240.2 1446.4zM1268.7 1434.6L1248.6 1422.8L1248.6 1446.4zM1276.8 1434.6L1256.7 1422.8L1256.7 1446.4zM1284.8 1434.6L1264.7 1422.8L1264.7 1446.4zM1292.8 1434.6L1272.7 1422.8L1272.7 1446.4zM1300.6 1434.6L1280.5 1422.8L1280.5 1446.4zM1308.2 1434.6L1288.1 1422.8L1288.1 1446.4zM1315.7 1434.6L1295.6 1422.8L1295.6 1446.4zM1323.1 1434.6L1303.0 1422.8L1303.0 1446.4zM1330.4 1434.6L1310.3 1422.8L1310.3 1446.4zM1337.6 1434.6L1317.5 1422.8L1317.5 1446.4zM1344.8 1434.6L1324.7 1422.8L1324.7 1446.4zM1351.8 1434.6L1331.7 1422.8L1331.7 1446.4zM1358.8 1434.6L1338.7 1422.8L1338.7 1446.4zM1365.7 1434.6L1345.6 1422.8L1345.6 1446.4zM1372.5 1434.6L1352.4 1422.8L1352.4 1446.4zM1379.3 1434.6L1359.2 1422.8L1359.2 1446.4zM1385.9 1434.6L1365.8 1422.8L1365.8 1446.4zM1392.5 1434.6L1372.4 1422.8L1372.4 1446.4zM1399.1 1434.6L1379.0 1422.8L1379.0 1446.4zM1405.5 1434.6L1385.4 1422.8L1385.4 1446.4zM1411.9 1434.6L1391.8 1422.8L1391.8 1446.4zM1418.2 1434.6L1398.1 1422.8L1398.1 1446.4zM1424.6 1434.6L1404.5 1422.8L1404.5 1446.4zM1430.9 1434.6L1410.8 1422.8L1410.8 1446.4zM1437.4 1434.6L1417.3 1422.8L1417.3 1446.4zM1443.8 1434.6L1423.7 1422.8L1423.7 1446.4zM1450.3 1434.6L1430.2 1422.8L1430.2 1446.4zM1456.9 1434.6L1436.8 1422.8L1436.8 1446.4zM1463.7 1434.6L1443.6 1422.8L1443.6 1446.4zM1470.5 1434.6L1450.4 1422.8L1450.4 1446.4zM1477.4 1434.6L1457.3 1422.8L1457.3 1446.4zM1484.5 1434.6L1464.4 1422.8L1464.4 1446.4zM1491.6 1434.6L1471.5 1422.8L1471.5 1446.4zM1498.9 1434.6L1478.8 1422.8L1478.8 1446.4zM1506.3 1434.6L1486.2 1422.8L1486.2 1446.4zM1513.9 1434.6L1493.8 1422.8L1493.8 1446.4zM1521.6 1434.6L1501.5 1422.8L1501.5 1446.4zM1533.7 1434.6L1513.6 1422.8L1513.6 1446.4zM1545.4 1434.6L1525.3 1422.8L1525.3 1446.4zM1556.1 1434.6L1536.0 1422.8L1536.0 1446.4zM1565.1 1434.6L1545.0 1422.8L1545.0 1446.4zM1574.1 1434.6L1554.0 1422.8L1554.0 1446.4zM1584.0 1434.6L1563.9 1422.8L1563.9 1446.4zM1599.0 1434.6L1578.9 1422.8L1578.9 1446.4zM1614.1 1434.6L1594.0 1422.8L1594.0 1446.4zM1625.2 1434.4L1605.1 1422.6L1605.1 1446.2zM1645.1 1433.5L1625.0 1421.7L1625.0 1445.3zM1664.1 1432.5L1644.0 1420.7L1644.0 1444.3zM1676.1 1429.5L1656.0 1417.7L1656.0 1441.3zM1688.2 1428.3L1668.1 1416.5L1668.1 1440.1zM1699.2 1427.6L1679.1 1415.8L1679.1 1439.4zM1711.0 1427.5L1690.9 1415.7L1690.9 1439.3zM1722.0 1427.5L1701.9 1415.7L1701.9 1439.3zM1734.1 1427.4L1714.0 1415.6L1714.0 1439.2zM1745.1 1427.4L1725.0 1415.6L1725.0 1439.2z" fill="#00cbce"/>
</g>
<g shape-rendering="crispEdges">
<path d="M1231.5 189.4H1359.5" stroke="#4d4d4d" stroke-width="5" stroke-linecap="round" fill="none"/>
<path d="M1286.3 180.4h18v18h-18z" fill="#4d4d4d"/>
<path d="M1231.5 260.4H1359.5" stroke="#ff3b3b" stroke-width="5" stroke-linecap="round" fill="none"/>
<path d="M1285.8 260.4a9.5 9.5 0 1 0 19.0 0a9.5 9.5 0 1 0 -19.0 0z" fill="#ff3b3b"/>
<path d="M1231.5 331.4H1359.5" stroke="#0a6fe3" stroke-width="5" stroke-linecap="round" fill="none"/>
<path d="M1295.3 318.0L1306.9 338.1L1283.7 338.1z" fill="#0a6fe3"/>
<path d="M1231.5 402.4H1359.5" stroke="#00ad66" stroke-width="5" stroke-linecap="round" fill="none"/>
<path d="M1295.3 416.6L1306.9 395.7L1283.7 395.7z" fill="#00ad66"/>
<path d="M1231.5 473.4H1359.5" stroke="#c078e2" stroke-width="5" stroke-linecap="round" fill="none"/>
<path d="M1295.3 460.8L1307.9 473.4L1295.3 486.0L1282.7 473.4z" fill="#c078e2"/>
<path d="M1231.5 544.4H1359.5" stroke="#dc9a05" stroke-width="5" stroke-linecap="round" fill="none"/>
<path d="M1282.4 544.2L1302.6 532.5L1302.6 555.9z" fill="#dc9a05"/>
<path d="M1231.5 615.4H1359.5" stroke="#00cbce" stroke-width="5" stroke-linecap="round" fill="none"/>
<path d="M1308.7 615.4L1288.6 603.6L1288.6 627.2z" fill="#00cbce"/>
</g>
<g font-size="57.4">
<text x="1373.4" y="207.8">M-Cr</text>
<text x="1373.4" y="278.8">M-20PrCr</text>
<text x="1373.4" y="349.8">M-30PrCr</text>
<text x="1373.4" y="420.8">M-40PrCr</text>
<text x="1373.4" y="491.8">P-Cr</text>
<text x="1373.4" y="562.8">P-Pr</text>
<text x="1373.4" y="633.8">P-30PrCr</text>
</g>
</svg>
</body></html>
